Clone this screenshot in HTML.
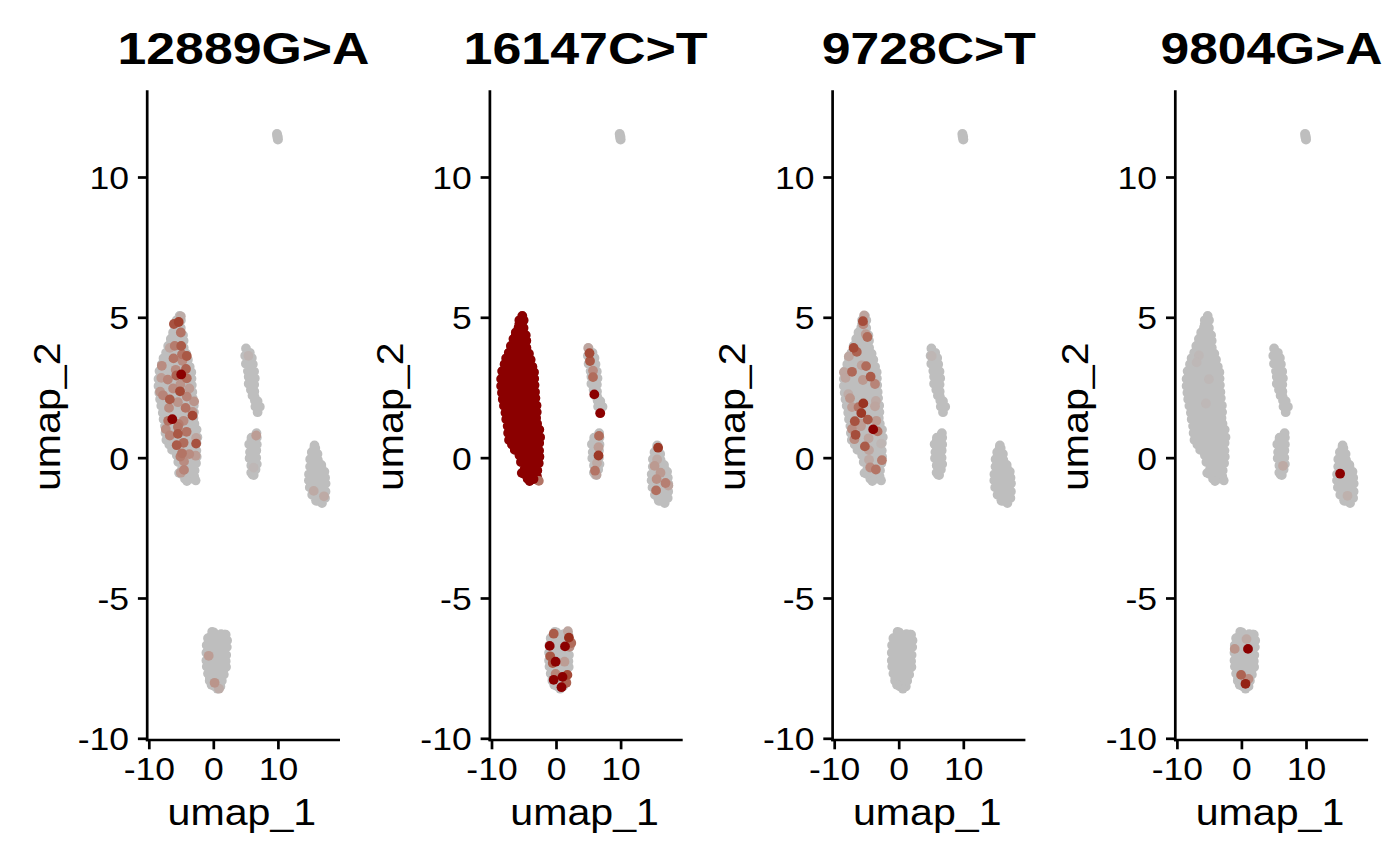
<!DOCTYPE html>
<html><head><meta charset="utf-8"><style>
html,body{margin:0;padding:0;background:#fff;width:1400px;height:865px;overflow:hidden}
svg{display:block}
.t{font-family:"Liberation Sans", sans-serif;font-weight:bold;font-size:44px}
.k{font-family:"Liberation Sans", sans-serif;font-size:32px}
.a{font-family:"Liberation Sans", sans-serif;font-size:37px}
</style></head><body>
<svg width="1400" height="865" viewBox="0 0 1400 865">
<rect width="1400" height="865" fill="#fff"/>
<path d="M181.2,313.5 L180.6,313.2 L179.9,313.0 L179.2,313.0 L178.5,313.2 L177.9,313.5 L175.5,315.3 L175.0,315.8 L174.6,316.4 L174.3,317.1 L173.8,319.8 L173.6,320.3 L173.4,320.8 L172.4,322.1 L172.0,322.7 L171.8,323.4 L171.8,324.2 L172.0,324.9 L172.8,326.9 L173.0,327.6 L172.9,328.0 L172.8,328.4 L172.4,329.0 L169.1,332.3 L168.7,332.9 L168.4,333.5 L168.3,334.2 L167.8,340.4 L167.7,341.0 L167.5,341.5 L164.6,346.2 L164.3,346.8 L164.2,347.4 L163.7,351.0 L163.6,351.4 L163.4,351.8 L160.9,356.1 L160.6,356.7 L160.5,357.3 L160.5,357.9 L160.8,359.7 L160.8,360.2 L160.7,360.6 L160.5,361.1 L158.1,364.9 L157.8,365.8 L155.7,375.0 L155.6,375.6 L155.6,386.4 L155.6,386.8 L157.3,399.7 L157.3,399.8 L158.4,406.5 L158.5,406.7 L159.6,411.1 L159.7,411.5 L160.8,420.4 L160.8,420.7 L162.5,428.4 L162.6,429.1 L162.6,436.5 L162.7,437.1 L164.0,442.5 L164.2,443.1 L164.6,443.7 L167.8,447.3 L168.4,448.3 L169.6,451.5 L169.9,452.2 L170.4,452.7 L173.4,455.2 L173.8,455.8 L174.1,456.5 L175.7,463.4 L175.8,464.0 L176.1,464.5 L178.9,468.3 L179.2,468.9 L179.3,469.3 L179.2,470.0 L178.5,472.8 L178.5,473.4 L178.5,474.1 L178.8,474.8 L181.0,479.2 L181.4,479.8 L181.9,480.2 L185.2,482.7 L185.9,483.0 L186.6,483.2 L187.4,483.2 L188.1,483.0 L190.8,481.8 L191.4,481.6 L191.8,481.6 L192.4,481.8 L193.5,482.3 L194.2,482.5 L194.9,482.5 L195.6,482.4 L196.2,482.1 L196.7,481.7 L197.2,481.2 L197.7,480.5 L198.0,479.8 L198.0,479.0 L197.9,478.2 L197.0,475.8 L196.9,475.2 L196.9,474.7 L198.1,466.8 L198.2,466.6 L199.7,460.4 L199.8,459.5 L199.3,451.0 L199.3,450.9 L199.3,444.0 L199.4,443.5 L200.3,438.5 L200.4,437.7 L199.8,431.5 L199.8,431.3 L198.9,425.6 L198.7,424.9 L198.4,424.4 L196.2,421.3 L195.9,420.8 L195.8,420.4 L195.8,420.1 L195.9,419.5 L197.2,415.6 L197.4,414.9 L197.3,414.2 L196.5,409.7 L196.4,408.9 L196.8,403.4 L196.8,402.6 L196.5,401.9 L196.1,400.9 L195.8,399.8 L194.6,383.3 L194.6,383.2 L194.1,370.3 L193.9,369.3 L191.4,363.2 L191.2,362.4 L190.2,354.7 L190.0,353.9 L189.5,353.2 L187.6,350.9 L187.3,350.4 L187.1,349.8 L186.1,344.5 L186.1,343.3 L186.9,339.0 L187.0,338.3 L186.8,337.6 L183.8,328.3 L183.7,327.9 L183.7,327.4 L184.2,323.4 L184.2,322.8 L183.4,316.1 L183.1,315.3 L182.7,314.6 L182.1,314.1Z M247.0,346.8 L246.5,346.6 L246.0,346.5 L245.5,346.6 L245.1,346.7 L244.7,347.0 L243.5,348.0 L243.2,348.5 L242.9,349.0 L242.9,349.6 L243.2,356.5 L243.2,356.6 L244.1,365.6 L244.1,366.1 L246.6,373.3 L246.7,374.2 L246.7,385.4 L246.8,385.8 L246.9,386.2 L249.1,390.5 L249.3,391.2 L249.2,391.9 L248.9,393.9 L248.8,394.4 L249.0,394.9 L249.2,395.4 L249.6,395.8 L252.1,397.9 L252.5,398.3 L252.7,398.7 L252.8,399.2 L253.1,403.7 L253.1,403.8 L253.9,410.6 L254.0,411.1 L254.3,411.6 L255.8,413.6 L256.2,414.0 L256.6,414.2 L257.1,414.3 L257.7,414.3 L258.2,414.2 L258.6,414.0 L259.0,413.6 L261.3,410.7 L261.5,410.2 L261.7,409.6 L262.0,403.8 L262.0,403.2 L261.8,402.7 L261.5,402.2 L257.1,397.8 L256.7,397.4 L256.6,396.9 L256.5,396.5 L256.6,395.9 L257.3,394.2 L257.4,393.6 L257.4,393.0 L257.1,392.4 L255.5,389.7 L255.3,389.2 L255.2,388.8 L255.3,388.3 L256.9,381.9 L257.0,381.3 L256.5,373.5 L256.5,373.3 L254.3,361.3 L254.3,361.2 L253.3,354.4 L253.1,353.9 L252.9,353.4 L248.6,347.9 L248.3,347.6 L248.0,347.3Z M259.4,432.8 L259.2,432.1 L258.9,431.4 L258.3,430.9 L257.7,430.5 L256.9,430.3 L256.1,430.3 L255.4,430.5 L254.7,430.9 L252.7,432.5 L252.5,432.7 L250.2,435.0 L250.0,435.1 L247.5,437.3 L247.0,437.9 L246.7,438.5 L246.6,439.3 L246.2,443.8 L246.3,444.5 L247.2,450.7 L247.2,451.4 L246.7,458.3 L246.8,459.2 L249.0,468.3 L249.1,468.8 L249.0,469.3 L247.8,474.5 L247.7,475.3 L247.8,476.0 L248.1,476.7 L248.5,477.3 L249.7,478.4 L250.3,478.9 L251.1,479.2 L251.9,479.3 L253.4,479.2 L254.2,479.0 L254.9,478.6 L255.5,478.0 L255.9,477.3 L257.7,472.4 L257.8,472.1 L260.0,463.5 L260.1,462.8 L260.0,462.2 L258.8,455.5 L258.7,454.6 L259.7,447.3 L259.7,446.9 L259.7,435.6 L259.7,435.3Z M315.8,442.9 L315.0,442.6 L314.2,442.6 L313.5,442.8 L312.8,443.2 L310.7,444.8 L310.1,445.3 L309.7,446.1 L309.5,446.9 L309.2,450.6 L309.1,451.2 L307.4,457.3 L307.3,458.1 L307.3,465.3 L307.3,465.7 L305.8,476.0 L305.8,476.5 L306.3,485.4 L306.4,486.1 L308.6,493.4 L308.6,493.5 L311.0,500.5 L311.4,501.1 L311.8,501.7 L312.4,502.1 L320.1,506.2 L320.2,506.2 L320.3,506.3 L321.0,506.5 L321.7,506.6 L322.4,506.5 L323.1,506.2 L323.7,505.8 L324.1,505.2 L324.9,503.9 L324.9,503.8 L327.8,499.0 L328.0,498.3 L328.1,497.6 L328.6,485.2 L328.6,484.9 L327.6,472.7 L327.6,472.2 L325.8,465.0 L325.5,464.3 L325.2,463.8 L324.7,463.3 L324.1,463.0 L322.0,462.1 L321.4,461.7 L321.1,461.4 L320.9,460.9 L320.8,460.3 L320.8,454.7 L320.7,454.0 L320.5,453.4 L318.6,449.7 L318.3,448.6 L318.0,445.5 L317.9,444.8 L317.5,444.1 L317.0,443.6 L316.4,443.2Z M213.0,629.1 L212.3,628.9 L211.6,629.0 L210.9,629.2 L210.3,629.7 L208.3,631.3 L207.9,631.7 L207.6,632.2 L205.4,636.8 L205.2,637.5 L203.8,644.5 L203.8,644.9 L203.3,656.2 L203.3,656.4 L203.8,665.8 L203.8,666.1 L205.2,674.4 L205.3,675.3 L205.0,678.1 L205.0,678.9 L205.2,679.6 L205.6,680.2 L208.3,683.6 L208.4,683.7 L212.3,688.2 L212.9,688.7 L216.0,690.7 L216.7,691.1 L217.5,691.2 L218.3,691.1 L219.0,690.9 L221.8,689.3 L222.4,688.8 L222.9,688.2 L223.2,687.4 L225.2,678.7 L225.4,678.1 L228.8,670.3 L229.0,669.7 L229.0,669.0 L228.6,660.4 L228.6,659.9 L229.6,649.4 L229.6,649.2 L230.1,639.3 L229.9,638.3 L228.1,632.4 L227.7,631.7 L227.2,631.1 L226.5,630.5 L225.8,630.0 L225.0,629.8 L224.1,629.8 L223.3,630.1 L221.3,631.1 L220.7,631.2 L220.3,631.3 L219.7,631.2ZM174.7,315.9a4.9,4.9 0 1,0 9.8,0a4.9,4.9 0 1,0 -9.8,0ZM171.8,320.3a4.9,4.9 0 1,0 9.8,0a4.9,4.9 0 1,0 -9.8,0ZM171.0,327.4a4.9,4.9 0 1,0 9.8,0a4.9,4.9 0 1,0 -9.8,0ZM168.2,332.4a4.9,4.9 0 1,0 9.8,0a4.9,4.9 0 1,0 -9.8,0ZM165.9,338.9a4.9,4.9 0 1,0 9.8,0a4.9,4.9 0 1,0 -9.8,0ZM163.3,345.9a4.9,4.9 0 1,0 9.8,0a4.9,4.9 0 1,0 -9.8,0ZM161.2,352.8a4.9,4.9 0 1,0 9.8,0a4.9,4.9 0 1,0 -9.8,0ZM158.6,358.3a4.9,4.9 0 1,0 9.8,0a4.9,4.9 0 1,0 -9.8,0ZM157.0,364.3a4.9,4.9 0 1,0 9.8,0a4.9,4.9 0 1,0 -9.8,0ZM154.6,371.1a4.9,4.9 0 1,0 9.8,0a4.9,4.9 0 1,0 -9.8,0ZM153.6,378.9a4.9,4.9 0 1,0 9.8,0a4.9,4.9 0 1,0 -9.8,0ZM153.6,386.0a4.9,4.9 0 1,0 9.8,0a4.9,4.9 0 1,0 -9.8,0ZM154.4,392.8a4.9,4.9 0 1,0 9.8,0a4.9,4.9 0 1,0 -9.8,0ZM155.2,399.2a4.9,4.9 0 1,0 9.8,0a4.9,4.9 0 1,0 -9.8,0ZM156.4,405.7a4.9,4.9 0 1,0 9.8,0a4.9,4.9 0 1,0 -9.8,0ZM157.9,412.8a4.9,4.9 0 1,0 9.8,0a4.9,4.9 0 1,0 -9.8,0ZM158.7,419.3a4.9,4.9 0 1,0 9.8,0a4.9,4.9 0 1,0 -9.8,0ZM160.1,426.0a4.9,4.9 0 1,0 9.8,0a4.9,4.9 0 1,0 -9.8,0ZM160.6,433.0a4.9,4.9 0 1,0 9.8,0a4.9,4.9 0 1,0 -9.8,0ZM161.5,440.0a4.9,4.9 0 1,0 9.8,0a4.9,4.9 0 1,0 -9.8,0ZM164.4,444.6a4.9,4.9 0 1,0 9.8,0a4.9,4.9 0 1,0 -9.8,0ZM167.2,449.9a4.9,4.9 0 1,0 9.8,0a4.9,4.9 0 1,0 -9.8,0ZM171.9,455.3a4.9,4.9 0 1,0 9.8,0a4.9,4.9 0 1,0 -9.8,0ZM173.4,462.0a4.9,4.9 0 1,0 9.8,0a4.9,4.9 0 1,0 -9.8,0ZM177.2,468.5a4.9,4.9 0 1,0 9.8,0a4.9,4.9 0 1,0 -9.8,0ZM176.7,474.0a4.9,4.9 0 1,0 9.8,0a4.9,4.9 0 1,0 -9.8,0ZM180.1,478.9a4.9,4.9 0 1,0 9.8,0a4.9,4.9 0 1,0 -9.8,0ZM186.1,478.7a4.9,4.9 0 1,0 9.8,0a4.9,4.9 0 1,0 -9.8,0ZM189.3,476.5a4.9,4.9 0 1,0 9.8,0a4.9,4.9 0 1,0 -9.8,0ZM189.7,470.5a4.9,4.9 0 1,0 9.8,0a4.9,4.9 0 1,0 -9.8,0ZM191.1,463.3a4.9,4.9 0 1,0 9.8,0a4.9,4.9 0 1,0 -9.8,0ZM191.8,456.8a4.9,4.9 0 1,0 9.8,0a4.9,4.9 0 1,0 -9.8,0ZM191.5,450.6a4.9,4.9 0 1,0 9.8,0a4.9,4.9 0 1,0 -9.8,0ZM191.6,443.0a4.9,4.9 0 1,0 9.8,0a4.9,4.9 0 1,0 -9.8,0ZM192.5,437.3a4.9,4.9 0 1,0 9.8,0a4.9,4.9 0 1,0 -9.8,0ZM191.7,429.6a4.9,4.9 0 1,0 9.8,0a4.9,4.9 0 1,0 -9.8,0ZM189.5,423.8a4.9,4.9 0 1,0 9.8,0a4.9,4.9 0 1,0 -9.8,0ZM188.5,417.9a4.9,4.9 0 1,0 9.8,0a4.9,4.9 0 1,0 -9.8,0ZM189.1,412.1a4.9,4.9 0 1,0 9.8,0a4.9,4.9 0 1,0 -9.8,0ZM188.9,405.5a4.9,4.9 0 1,0 9.8,0a4.9,4.9 0 1,0 -9.8,0ZM187.8,398.1a4.9,4.9 0 1,0 9.8,0a4.9,4.9 0 1,0 -9.8,0ZM187.4,392.0a4.9,4.9 0 1,0 9.8,0a4.9,4.9 0 1,0 -9.8,0ZM186.9,385.1a4.9,4.9 0 1,0 9.8,0a4.9,4.9 0 1,0 -9.8,0ZM186.6,378.6a4.9,4.9 0 1,0 9.8,0a4.9,4.9 0 1,0 -9.8,0ZM186.4,372.3a4.9,4.9 0 1,0 9.8,0a4.9,4.9 0 1,0 -9.8,0ZM184.8,366.8a4.9,4.9 0 1,0 9.8,0a4.9,4.9 0 1,0 -9.8,0ZM183.0,359.8a4.9,4.9 0 1,0 9.8,0a4.9,4.9 0 1,0 -9.8,0ZM181.3,353.7a4.9,4.9 0 1,0 9.8,0a4.9,4.9 0 1,0 -9.8,0ZM178.8,347.7a4.9,4.9 0 1,0 9.8,0a4.9,4.9 0 1,0 -9.8,0ZM178.7,340.8a4.9,4.9 0 1,0 9.8,0a4.9,4.9 0 1,0 -9.8,0ZM178.1,335.2a4.9,4.9 0 1,0 9.8,0a4.9,4.9 0 1,0 -9.8,0ZM175.9,328.0a4.9,4.9 0 1,0 9.8,0a4.9,4.9 0 1,0 -9.8,0ZM176.0,320.3a4.9,4.9 0 1,0 9.8,0a4.9,4.9 0 1,0 -9.8,0ZM241.1,348.5a4.9,4.9 0 1,0 9.8,0a4.9,4.9 0 1,0 -9.8,0ZM240.3,355.8a4.9,4.9 0 1,0 9.8,0a4.9,4.9 0 1,0 -9.8,0ZM241.0,363.7a4.9,4.9 0 1,0 9.8,0a4.9,4.9 0 1,0 -9.8,0ZM243.0,371.1a4.9,4.9 0 1,0 9.8,0a4.9,4.9 0 1,0 -9.8,0ZM243.8,376.7a4.9,4.9 0 1,0 9.8,0a4.9,4.9 0 1,0 -9.8,0ZM243.8,383.7a4.9,4.9 0 1,0 9.8,0a4.9,4.9 0 1,0 -9.8,0ZM246.0,389.7a4.9,4.9 0 1,0 9.8,0a4.9,4.9 0 1,0 -9.8,0ZM247.6,395.6a4.9,4.9 0 1,0 9.8,0a4.9,4.9 0 1,0 -9.8,0ZM250.0,400.6a4.9,4.9 0 1,0 9.8,0a4.9,4.9 0 1,0 -9.8,0ZM250.5,406.6a4.9,4.9 0 1,0 9.8,0a4.9,4.9 0 1,0 -9.8,0ZM252.7,412.2a4.9,4.9 0 1,0 9.8,0a4.9,4.9 0 1,0 -9.8,0ZM254.9,406.8a4.9,4.9 0 1,0 9.8,0a4.9,4.9 0 1,0 -9.8,0ZM252.7,401.2a4.9,4.9 0 1,0 9.8,0a4.9,4.9 0 1,0 -9.8,0ZM249.6,396.8a4.9,4.9 0 1,0 9.8,0a4.9,4.9 0 1,0 -9.8,0ZM249.4,391.5a4.9,4.9 0 1,0 9.8,0a4.9,4.9 0 1,0 -9.8,0ZM249.3,384.6a4.9,4.9 0 1,0 9.8,0a4.9,4.9 0 1,0 -9.8,0ZM249.9,378.2a4.9,4.9 0 1,0 9.8,0a4.9,4.9 0 1,0 -9.8,0ZM249.2,371.4a4.9,4.9 0 1,0 9.8,0a4.9,4.9 0 1,0 -9.8,0ZM247.9,364.2a4.9,4.9 0 1,0 9.8,0a4.9,4.9 0 1,0 -9.8,0ZM246.9,357.9a4.9,4.9 0 1,0 9.8,0a4.9,4.9 0 1,0 -9.8,0ZM244.9,352.8a4.9,4.9 0 1,0 9.8,0a4.9,4.9 0 1,0 -9.8,0ZM251.6,433.1a4.9,4.9 0 1,0 9.8,0a4.9,4.9 0 1,0 -9.8,0ZM246.6,437.7a4.9,4.9 0 1,0 9.8,0a4.9,4.9 0 1,0 -9.8,0ZM244.3,444.3a4.9,4.9 0 1,0 9.8,0a4.9,4.9 0 1,0 -9.8,0ZM245.1,452.1a4.9,4.9 0 1,0 9.8,0a4.9,4.9 0 1,0 -9.8,0ZM244.7,458.3a4.9,4.9 0 1,0 9.8,0a4.9,4.9 0 1,0 -9.8,0ZM246.4,465.5a4.9,4.9 0 1,0 9.8,0a4.9,4.9 0 1,0 -9.8,0ZM246.3,472.6a4.9,4.9 0 1,0 9.8,0a4.9,4.9 0 1,0 -9.8,0ZM248.8,475.0a4.9,4.9 0 1,0 9.8,0a4.9,4.9 0 1,0 -9.8,0ZM250.6,469.5a4.9,4.9 0 1,0 9.8,0a4.9,4.9 0 1,0 -9.8,0ZM251.9,464.1a4.9,4.9 0 1,0 9.8,0a4.9,4.9 0 1,0 -9.8,0ZM251.3,457.8a4.9,4.9 0 1,0 9.8,0a4.9,4.9 0 1,0 -9.8,0ZM251.4,450.5a4.9,4.9 0 1,0 9.8,0a4.9,4.9 0 1,0 -9.8,0ZM251.9,444.4a4.9,4.9 0 1,0 9.8,0a4.9,4.9 0 1,0 -9.8,0ZM251.9,437.6a4.9,4.9 0 1,0 9.8,0a4.9,4.9 0 1,0 -9.8,0ZM309.6,445.5a4.9,4.9 0 1,0 9.8,0a4.9,4.9 0 1,0 -9.8,0ZM306.9,452.2a4.9,4.9 0 1,0 9.8,0a4.9,4.9 0 1,0 -9.8,0ZM305.3,459.2a4.9,4.9 0 1,0 9.8,0a4.9,4.9 0 1,0 -9.8,0ZM305.2,466.6a4.9,4.9 0 1,0 9.8,0a4.9,4.9 0 1,0 -9.8,0ZM304.1,474.3a4.9,4.9 0 1,0 9.8,0a4.9,4.9 0 1,0 -9.8,0ZM304.0,480.4a4.9,4.9 0 1,0 9.8,0a4.9,4.9 0 1,0 -9.8,0ZM304.9,487.4a4.9,4.9 0 1,0 9.8,0a4.9,4.9 0 1,0 -9.8,0ZM307.3,494.8a4.9,4.9 0 1,0 9.8,0a4.9,4.9 0 1,0 -9.8,0ZM311.2,500.8a4.9,4.9 0 1,0 9.8,0a4.9,4.9 0 1,0 -9.8,0ZM317.1,503.1a4.9,4.9 0 1,0 9.8,0a4.9,4.9 0 1,0 -9.8,0ZM320.1,498.0a4.9,4.9 0 1,0 9.8,0a4.9,4.9 0 1,0 -9.8,0ZM320.6,491.5a4.9,4.9 0 1,0 9.8,0a4.9,4.9 0 1,0 -9.8,0ZM320.7,483.6a4.9,4.9 0 1,0 9.8,0a4.9,4.9 0 1,0 -9.8,0ZM320.2,477.8a4.9,4.9 0 1,0 9.8,0a4.9,4.9 0 1,0 -9.8,0ZM319.5,471.6a4.9,4.9 0 1,0 9.8,0a4.9,4.9 0 1,0 -9.8,0ZM316.4,464.9a4.9,4.9 0 1,0 9.8,0a4.9,4.9 0 1,0 -9.8,0ZM313.0,459.9a4.9,4.9 0 1,0 9.8,0a4.9,4.9 0 1,0 -9.8,0ZM312.6,454.0a4.9,4.9 0 1,0 9.8,0a4.9,4.9 0 1,0 -9.8,0ZM310.4,448.1a4.9,4.9 0 1,0 9.8,0a4.9,4.9 0 1,0 -9.8,0ZM207.3,631.8a4.9,4.9 0 1,0 9.8,0a4.9,4.9 0 1,0 -9.8,0ZM203.1,638.2a4.9,4.9 0 1,0 9.8,0a4.9,4.9 0 1,0 -9.8,0ZM201.8,645.3a4.9,4.9 0 1,0 9.8,0a4.9,4.9 0 1,0 -9.8,0ZM201.5,652.7a4.9,4.9 0 1,0 9.8,0a4.9,4.9 0 1,0 -9.8,0ZM201.5,660.5a4.9,4.9 0 1,0 9.8,0a4.9,4.9 0 1,0 -9.8,0ZM201.9,666.6a4.9,4.9 0 1,0 9.8,0a4.9,4.9 0 1,0 -9.8,0ZM203.1,673.6a4.9,4.9 0 1,0 9.8,0a4.9,4.9 0 1,0 -9.8,0ZM204.8,680.7a4.9,4.9 0 1,0 9.8,0a4.9,4.9 0 1,0 -9.8,0ZM209.8,686.4a4.9,4.9 0 1,0 9.8,0a4.9,4.9 0 1,0 -9.8,0ZM215.5,686.4a4.9,4.9 0 1,0 9.8,0a4.9,4.9 0 1,0 -9.8,0ZM216.9,680.7a4.9,4.9 0 1,0 9.8,0a4.9,4.9 0 1,0 -9.8,0ZM218.9,674.5a4.9,4.9 0 1,0 9.8,0a4.9,4.9 0 1,0 -9.8,0ZM221.1,667.0a4.9,4.9 0 1,0 9.8,0a4.9,4.9 0 1,0 -9.8,0ZM220.8,661.3a4.9,4.9 0 1,0 9.8,0a4.9,4.9 0 1,0 -9.8,0ZM221.3,655.0a4.9,4.9 0 1,0 9.8,0a4.9,4.9 0 1,0 -9.8,0ZM221.9,647.1a4.9,4.9 0 1,0 9.8,0a4.9,4.9 0 1,0 -9.8,0ZM222.2,640.5a4.9,4.9 0 1,0 9.8,0a4.9,4.9 0 1,0 -9.8,0ZM220.8,634.7a4.9,4.9 0 1,0 9.8,0a4.9,4.9 0 1,0 -9.8,0ZM216.2,634.1a4.9,4.9 0 1,0 9.8,0a4.9,4.9 0 1,0 -9.8,0ZM208.7,632.3a4.9,4.9 0 1,0 9.8,0a4.9,4.9 0 1,0 -9.8,0Z" fill="#BEBEBE" fill-rule="nonzero"/>
<circle cx="277.0" cy="134" r="5" fill="#BEBEBE"/>
<circle cx="277.9" cy="139.5" r="5" fill="#BEBEBE"/>
<circle cx="277.5" cy="136.8" r="5.2" fill="#BEBEBE"/>
<circle cx="186.9" cy="481.2" r="4.7" fill="#BEBEBE"/>
<circle cx="195.8" cy="480.6" r="4.7" fill="#BEBEBE"/>
<circle cx="178.9" cy="473" r="4.7" fill="#BEBEBE"/>
<circle cx="217.4" cy="688.8" r="4.8" fill="#BEBEBE"/>
<circle cx="211.4" cy="685" r="4.7" fill="#BEBEBE"/>
<circle cx="253.6" cy="467.6" r="4.9" fill="#BEB7B6"/>
<circle cx="248.4" cy="355.8" r="4.9" fill="#BEB4B2"/>
<circle cx="180.8" cy="316.3" r="4.9" fill="#BDADA9"/>
<circle cx="219.0" cy="688.7" r="4.9" fill="#BDADA9"/>
<circle cx="313.7" cy="490.9" r="4.9" fill="#BDAAA5"/>
<circle cx="324.0" cy="496.3" r="4.9" fill="#BDAAA5"/>
<circle cx="169.8" cy="347.9" r="4.9" fill="#BDA59F"/>
<circle cx="196.1" cy="437.9" r="4.9" fill="#BDA59F"/>
<circle cx="161.3" cy="377.9" r="4.9" fill="#BC9D95"/>
<circle cx="189.3" cy="388.5" r="4.9" fill="#BC9D95"/>
<circle cx="195.7" cy="455.7" r="4.9" fill="#BC9D95"/>
<circle cx="180.8" cy="472.7" r="4.9" fill="#BC9D95"/>
<circle cx="256.2" cy="435.5" r="4.9" fill="#BC9D95"/>
<circle cx="208.7" cy="655.8" r="4.9" fill="#BC9D95"/>
<circle cx="180.4" cy="384.4" r="4.9" fill="#BA958B"/>
<circle cx="160.1" cy="391.7" r="4.9" fill="#BA958B"/>
<circle cx="177.9" cy="402.2" r="4.9" fill="#BA958B"/>
<circle cx="194.1" cy="401.4" r="4.9" fill="#BA958B"/>
<circle cx="192.5" cy="411.9" r="4.9" fill="#BA958B"/>
<circle cx="214.6" cy="682.8" r="4.9" fill="#BA958B"/>
<circle cx="182.4" cy="360.8" r="4.9" fill="#B98C81"/>
<circle cx="161.8" cy="365.8" r="4.9" fill="#B98C81"/>
<circle cx="175.7" cy="369.8" r="4.9" fill="#B98C81"/>
<circle cx="173.1" cy="388.5" r="4.9" fill="#B98C81"/>
<circle cx="169.0" cy="407.9" r="4.9" fill="#B98C81"/>
<circle cx="183.6" cy="420.8" r="4.9" fill="#B98C81"/>
<circle cx="165.8" cy="429.1" r="4.9" fill="#B98C81"/>
<circle cx="189.3" cy="454.1" r="4.9" fill="#B98C81"/>
<circle cx="184.0" cy="461.4" r="4.9" fill="#B98C81"/>
<circle cx="167.8" cy="379.6" r="4.9" fill="#B78478"/>
<circle cx="163.0" cy="395.3" r="4.9" fill="#B78478"/>
<circle cx="186.8" cy="396.6" r="4.9" fill="#B78478"/>
<circle cx="169.8" cy="435.5" r="4.9" fill="#B78478"/>
<circle cx="184.0" cy="469.9" r="4.9" fill="#B78478"/>
<circle cx="174.7" cy="345.9" r="4.9" fill="#B57C6E"/>
<circle cx="178.7" cy="424.1" r="4.9" fill="#B57C6E"/>
<circle cx="180.4" cy="456.6" r="4.9" fill="#B57C6E"/>
<circle cx="180.8" cy="332.5" r="4.9" fill="#B37465"/>
<circle cx="182.0" cy="354.4" r="4.9" fill="#B37465"/>
<circle cx="173.5" cy="358.4" r="4.9" fill="#B37465"/>
<circle cx="185.6" cy="407.9" r="4.9" fill="#B37465"/>
<circle cx="168.2" cy="420.8" r="4.9" fill="#B37465"/>
<circle cx="177.9" cy="427.0" r="4.9" fill="#B37465"/>
<circle cx="186.6" cy="431.8" r="4.9" fill="#B37465"/>
<circle cx="182.0" cy="453.3" r="4.9" fill="#B37465"/>
<circle cx="186.8" cy="378.3" r="4.9" fill="#B06C5B"/>
<circle cx="183.6" cy="442.8" r="4.9" fill="#B06C5B"/>
<circle cx="186.0" cy="369.0" r="4.9" fill="#AD6352"/>
<circle cx="176.3" cy="375.5" r="4.9" fill="#AD6352"/>
<circle cx="181.2" cy="345.9" r="4.9" fill="#AA5B49"/>
<circle cx="169.8" cy="399.4" r="4.9" fill="#AA5B49"/>
<circle cx="176.7" cy="445.2" r="4.9" fill="#AA5B49"/>
<circle cx="186.8" cy="356.0" r="4.9" fill="#A95845"/>
<circle cx="177.9" cy="433.9" r="4.9" fill="#A95845"/>
<circle cx="173.9" cy="324.0" r="4.9" fill="#A75240"/>
<circle cx="196.1" cy="443.6" r="4.9" fill="#A75240"/>
<circle cx="180.0" cy="391.3" r="4.9" fill="#A44A37"/>
<circle cx="192.5" cy="415.6" r="4.9" fill="#A24634"/>
<circle cx="178.7" cy="322.0" r="4.9" fill="#A0412E"/>
<circle cx="181.2" cy="374.5" r="4.9" fill="#8B0000"/>
<circle cx="172.3" cy="419.2" r="4.9" fill="#8B0000"/>
<line x1="147.20" y1="90.2" x2="147.20" y2="741.35" stroke="#000" stroke-width="2.7"/>
<line x1="145.85" y1="740" x2="340.00" y2="740" stroke="#000" stroke-width="2.7"/>
<line x1="137.90" y1="177.5" x2="147.20" y2="177.5" stroke="#000" stroke-width="2.7"/>
<line x1="137.90" y1="317.8" x2="147.20" y2="317.8" stroke="#000" stroke-width="2.7"/>
<line x1="137.90" y1="458.15" x2="147.20" y2="458.15" stroke="#000" stroke-width="2.7"/>
<line x1="137.90" y1="598.5" x2="147.20" y2="598.5" stroke="#000" stroke-width="2.7"/>
<line x1="137.90" y1="738.8" x2="147.20" y2="738.8" stroke="#000" stroke-width="2.7"/>
<line x1="149.30" y1="740" x2="149.30" y2="749.3" stroke="#000" stroke-width="2.7"/>
<line x1="213.80" y1="740" x2="213.80" y2="749.3" stroke="#000" stroke-width="2.7"/>
<line x1="278.40" y1="740" x2="278.40" y2="749.3" stroke="#000" stroke-width="2.7"/>
<path d="M523.9,313.5 L523.3,313.2 L522.6,313.0 L521.9,313.0 L521.2,313.2 L520.6,313.5 L518.2,315.3 L517.7,315.8 L517.3,316.4 L517.0,317.1 L516.5,319.8 L516.3,320.3 L516.1,320.8 L515.1,322.1 L514.7,322.7 L514.5,323.4 L514.5,324.2 L514.7,324.9 L515.5,326.9 L515.7,327.6 L515.6,328.0 L515.5,328.4 L515.1,329.0 L511.8,332.3 L511.4,332.9 L511.1,333.5 L511.0,334.2 L510.5,340.4 L510.4,341.0 L510.2,341.5 L507.3,346.2 L507.0,346.8 L506.9,347.4 L506.4,351.0 L506.3,351.4 L506.1,351.8 L503.6,356.1 L503.3,356.7 L503.2,357.3 L503.2,357.9 L503.5,359.7 L503.5,360.2 L503.4,360.6 L503.2,361.1 L500.8,364.9 L500.5,365.8 L498.4,375.0 L498.3,375.6 L498.3,386.4 L498.3,386.8 L500.0,399.7 L500.0,399.8 L501.1,406.5 L501.2,406.7 L502.3,411.1 L502.4,411.5 L503.5,420.4 L503.5,420.7 L505.2,428.4 L505.3,429.1 L505.3,436.5 L505.4,437.1 L506.7,442.5 L506.9,443.1 L507.3,443.7 L510.5,447.3 L511.1,448.3 L512.3,451.5 L512.6,452.2 L513.1,452.7 L516.1,455.2 L516.5,455.8 L516.8,456.5 L518.4,463.4 L518.5,464.0 L518.8,464.5 L521.6,468.3 L521.9,468.9 L522.0,469.3 L521.9,470.0 L521.2,472.8 L521.2,473.4 L521.2,474.1 L521.5,474.8 L523.7,479.2 L524.1,479.8 L524.6,480.2 L527.9,482.7 L528.6,483.0 L529.3,483.2 L530.1,483.2 L530.8,483.0 L533.5,481.8 L534.1,481.6 L534.5,481.6 L535.1,481.8 L536.2,482.3 L536.9,482.5 L537.6,482.5 L538.3,482.4 L538.9,482.1 L539.4,481.7 L539.9,481.2 L540.4,480.5 L540.7,479.8 L540.7,479.0 L540.6,478.2 L539.7,475.8 L539.6,475.2 L539.6,474.7 L540.8,466.8 L540.9,466.6 L542.4,460.4 L542.5,459.5 L542.0,451.0 L542.0,450.9 L542.0,444.0 L542.1,443.5 L543.0,438.5 L543.1,437.7 L542.5,431.5 L542.5,431.3 L541.6,425.6 L541.4,424.9 L541.1,424.4 L538.9,421.3 L538.6,420.8 L538.5,420.4 L538.5,420.1 L538.6,419.5 L539.9,415.6 L540.1,414.9 L540.0,414.2 L539.2,409.7 L539.1,408.9 L539.5,403.4 L539.5,402.6 L539.2,401.9 L538.8,400.9 L538.5,399.8 L537.3,383.3 L537.3,383.2 L536.8,370.3 L536.6,369.3 L534.1,363.2 L533.9,362.4 L532.9,354.7 L532.7,353.9 L532.2,353.2 L530.3,350.9 L530.0,350.4 L529.8,349.8 L528.8,344.5 L528.8,343.3 L529.6,339.0 L529.7,338.3 L529.5,337.6 L526.5,328.3 L526.4,327.9 L526.4,327.4 L526.9,323.4 L526.9,322.8 L526.1,316.1 L525.8,315.3 L525.4,314.6 L524.8,314.1Z M589.7,346.8 L589.2,346.6 L588.7,346.5 L588.2,346.6 L587.8,346.7 L587.4,347.0 L586.2,348.0 L585.9,348.5 L585.6,349.0 L585.6,349.6 L585.9,356.5 L585.9,356.6 L586.8,365.6 L586.8,366.1 L589.3,373.3 L589.4,374.2 L589.4,385.4 L589.5,385.8 L589.6,386.2 L591.8,390.5 L592.0,391.2 L591.9,391.9 L591.6,393.9 L591.5,394.4 L591.7,394.9 L591.9,395.4 L592.3,395.8 L594.8,397.9 L595.2,398.3 L595.4,398.7 L595.5,399.2 L595.8,403.7 L595.8,403.8 L596.6,410.6 L596.7,411.1 L597.0,411.6 L598.5,413.6 L598.9,414.0 L599.3,414.2 L599.8,414.3 L600.4,414.3 L600.9,414.2 L601.3,414.0 L601.7,413.6 L604.0,410.7 L604.2,410.2 L604.4,409.6 L604.7,403.8 L604.7,403.2 L604.5,402.7 L604.2,402.2 L599.8,397.8 L599.4,397.4 L599.3,396.9 L599.2,396.5 L599.3,395.9 L600.0,394.2 L600.1,393.6 L600.1,393.0 L599.8,392.4 L598.2,389.7 L598.0,389.2 L597.9,388.8 L598.0,388.3 L599.6,381.9 L599.7,381.3 L599.2,373.5 L599.2,373.3 L597.0,361.3 L597.0,361.2 L596.0,354.4 L595.8,353.9 L595.6,353.4 L591.3,347.9 L591.0,347.6 L590.7,347.3Z M602.1,432.8 L601.9,432.1 L601.6,431.4 L601.0,430.9 L600.4,430.5 L599.6,430.3 L598.8,430.3 L598.1,430.5 L597.4,430.9 L595.4,432.5 L595.2,432.7 L592.9,435.0 L592.7,435.1 L590.2,437.3 L589.7,437.9 L589.4,438.5 L589.3,439.3 L588.9,443.8 L589.0,444.5 L589.9,450.7 L589.9,451.4 L589.4,458.3 L589.5,459.2 L591.7,468.3 L591.8,468.8 L591.7,469.3 L590.5,474.5 L590.4,475.3 L590.5,476.0 L590.8,476.7 L591.2,477.3 L592.4,478.4 L593.0,478.9 L593.8,479.2 L594.6,479.3 L596.1,479.2 L596.9,479.0 L597.6,478.6 L598.2,478.0 L598.6,477.3 L600.4,472.4 L600.5,472.1 L602.7,463.5 L602.8,462.8 L602.7,462.2 L601.5,455.5 L601.4,454.6 L602.4,447.3 L602.4,446.9 L602.4,435.6 L602.4,435.3Z M658.5,442.9 L657.7,442.6 L656.9,442.6 L656.2,442.8 L655.5,443.2 L653.4,444.8 L652.8,445.3 L652.4,446.1 L652.2,446.9 L651.9,450.6 L651.8,451.2 L650.1,457.3 L650.0,458.1 L650.0,465.3 L650.0,465.7 L648.5,476.0 L648.5,476.5 L649.0,485.4 L649.1,486.1 L651.3,493.4 L651.3,493.5 L653.7,500.5 L654.1,501.1 L654.5,501.7 L655.1,502.1 L662.8,506.2 L662.9,506.2 L663.0,506.3 L663.7,506.5 L664.4,506.6 L665.1,506.5 L665.8,506.2 L666.4,505.8 L666.8,505.2 L667.6,503.9 L667.6,503.8 L670.5,499.0 L670.7,498.3 L670.8,497.6 L671.3,485.2 L671.3,484.9 L670.3,472.7 L670.3,472.2 L668.5,465.0 L668.2,464.3 L667.9,463.8 L667.4,463.3 L666.8,463.0 L664.7,462.1 L664.1,461.7 L663.8,461.4 L663.6,460.9 L663.5,460.3 L663.5,454.7 L663.4,454.0 L663.2,453.4 L661.3,449.7 L661.0,448.6 L660.7,445.5 L660.6,444.8 L660.2,444.1 L659.7,443.6 L659.1,443.2Z M555.7,629.1 L555.0,628.9 L554.3,629.0 L553.6,629.2 L553.0,629.7 L551.0,631.3 L550.6,631.7 L550.3,632.2 L548.1,636.8 L547.9,637.5 L546.5,644.5 L546.5,644.9 L546.0,656.2 L546.0,656.4 L546.5,665.8 L546.5,666.1 L547.9,674.4 L548.0,675.3 L547.7,678.1 L547.7,678.9 L547.9,679.6 L548.3,680.2 L551.0,683.6 L551.1,683.7 L555.0,688.2 L555.6,688.7 L558.7,690.7 L559.4,691.1 L560.2,691.2 L561.0,691.1 L561.7,690.9 L564.5,689.3 L565.1,688.8 L565.6,688.2 L565.9,687.4 L567.9,678.7 L568.1,678.1 L571.5,670.3 L571.7,669.7 L571.7,669.0 L571.3,660.4 L571.3,659.9 L572.3,649.4 L572.3,649.2 L572.8,639.3 L572.6,638.3 L570.8,632.4 L570.4,631.7 L569.9,631.1 L569.2,630.5 L568.5,630.0 L567.7,629.8 L566.8,629.8 L566.0,630.1 L564.0,631.1 L563.4,631.2 L563.0,631.3 L562.4,631.2ZM517.4,315.9a4.9,4.9 0 1,0 9.8,0a4.9,4.9 0 1,0 -9.8,0ZM514.5,320.3a4.9,4.9 0 1,0 9.8,0a4.9,4.9 0 1,0 -9.8,0ZM513.7,327.4a4.9,4.9 0 1,0 9.8,0a4.9,4.9 0 1,0 -9.8,0ZM510.9,332.4a4.9,4.9 0 1,0 9.8,0a4.9,4.9 0 1,0 -9.8,0ZM508.6,338.9a4.9,4.9 0 1,0 9.8,0a4.9,4.9 0 1,0 -9.8,0ZM506.0,345.9a4.9,4.9 0 1,0 9.8,0a4.9,4.9 0 1,0 -9.8,0ZM503.9,352.8a4.9,4.9 0 1,0 9.8,0a4.9,4.9 0 1,0 -9.8,0ZM501.3,358.3a4.9,4.9 0 1,0 9.8,0a4.9,4.9 0 1,0 -9.8,0ZM499.7,364.3a4.9,4.9 0 1,0 9.8,0a4.9,4.9 0 1,0 -9.8,0ZM497.3,371.1a4.9,4.9 0 1,0 9.8,0a4.9,4.9 0 1,0 -9.8,0ZM496.3,378.9a4.9,4.9 0 1,0 9.8,0a4.9,4.9 0 1,0 -9.8,0ZM496.3,386.0a4.9,4.9 0 1,0 9.8,0a4.9,4.9 0 1,0 -9.8,0ZM497.1,392.8a4.9,4.9 0 1,0 9.8,0a4.9,4.9 0 1,0 -9.8,0ZM497.9,399.2a4.9,4.9 0 1,0 9.8,0a4.9,4.9 0 1,0 -9.8,0ZM499.1,405.7a4.9,4.9 0 1,0 9.8,0a4.9,4.9 0 1,0 -9.8,0ZM500.6,412.8a4.9,4.9 0 1,0 9.8,0a4.9,4.9 0 1,0 -9.8,0ZM501.4,419.3a4.9,4.9 0 1,0 9.8,0a4.9,4.9 0 1,0 -9.8,0ZM502.8,426.0a4.9,4.9 0 1,0 9.8,0a4.9,4.9 0 1,0 -9.8,0ZM503.3,433.0a4.9,4.9 0 1,0 9.8,0a4.9,4.9 0 1,0 -9.8,0ZM504.2,440.0a4.9,4.9 0 1,0 9.8,0a4.9,4.9 0 1,0 -9.8,0ZM507.1,444.6a4.9,4.9 0 1,0 9.8,0a4.9,4.9 0 1,0 -9.8,0ZM509.9,449.9a4.9,4.9 0 1,0 9.8,0a4.9,4.9 0 1,0 -9.8,0ZM514.6,455.3a4.9,4.9 0 1,0 9.8,0a4.9,4.9 0 1,0 -9.8,0ZM516.1,462.0a4.9,4.9 0 1,0 9.8,0a4.9,4.9 0 1,0 -9.8,0ZM519.9,468.5a4.9,4.9 0 1,0 9.8,0a4.9,4.9 0 1,0 -9.8,0ZM519.4,474.0a4.9,4.9 0 1,0 9.8,0a4.9,4.9 0 1,0 -9.8,0ZM522.8,478.9a4.9,4.9 0 1,0 9.8,0a4.9,4.9 0 1,0 -9.8,0ZM528.8,478.7a4.9,4.9 0 1,0 9.8,0a4.9,4.9 0 1,0 -9.8,0ZM532.0,476.5a4.9,4.9 0 1,0 9.8,0a4.9,4.9 0 1,0 -9.8,0ZM532.4,470.5a4.9,4.9 0 1,0 9.8,0a4.9,4.9 0 1,0 -9.8,0ZM533.8,463.3a4.9,4.9 0 1,0 9.8,0a4.9,4.9 0 1,0 -9.8,0ZM534.5,456.8a4.9,4.9 0 1,0 9.8,0a4.9,4.9 0 1,0 -9.8,0ZM534.2,450.6a4.9,4.9 0 1,0 9.8,0a4.9,4.9 0 1,0 -9.8,0ZM534.3,443.0a4.9,4.9 0 1,0 9.8,0a4.9,4.9 0 1,0 -9.8,0ZM535.2,437.3a4.9,4.9 0 1,0 9.8,0a4.9,4.9 0 1,0 -9.8,0ZM534.4,429.6a4.9,4.9 0 1,0 9.8,0a4.9,4.9 0 1,0 -9.8,0ZM532.2,423.8a4.9,4.9 0 1,0 9.8,0a4.9,4.9 0 1,0 -9.8,0ZM531.2,417.9a4.9,4.9 0 1,0 9.8,0a4.9,4.9 0 1,0 -9.8,0ZM531.8,412.1a4.9,4.9 0 1,0 9.8,0a4.9,4.9 0 1,0 -9.8,0ZM531.6,405.5a4.9,4.9 0 1,0 9.8,0a4.9,4.9 0 1,0 -9.8,0ZM530.5,398.1a4.9,4.9 0 1,0 9.8,0a4.9,4.9 0 1,0 -9.8,0ZM530.1,392.0a4.9,4.9 0 1,0 9.8,0a4.9,4.9 0 1,0 -9.8,0ZM529.6,385.1a4.9,4.9 0 1,0 9.8,0a4.9,4.9 0 1,0 -9.8,0ZM529.3,378.6a4.9,4.9 0 1,0 9.8,0a4.9,4.9 0 1,0 -9.8,0ZM529.1,372.3a4.9,4.9 0 1,0 9.8,0a4.9,4.9 0 1,0 -9.8,0ZM527.5,366.8a4.9,4.9 0 1,0 9.8,0a4.9,4.9 0 1,0 -9.8,0ZM525.7,359.8a4.9,4.9 0 1,0 9.8,0a4.9,4.9 0 1,0 -9.8,0ZM524.0,353.7a4.9,4.9 0 1,0 9.8,0a4.9,4.9 0 1,0 -9.8,0ZM521.5,347.7a4.9,4.9 0 1,0 9.8,0a4.9,4.9 0 1,0 -9.8,0ZM521.4,340.8a4.9,4.9 0 1,0 9.8,0a4.9,4.9 0 1,0 -9.8,0ZM520.8,335.2a4.9,4.9 0 1,0 9.8,0a4.9,4.9 0 1,0 -9.8,0ZM518.6,328.0a4.9,4.9 0 1,0 9.8,0a4.9,4.9 0 1,0 -9.8,0ZM518.7,320.3a4.9,4.9 0 1,0 9.8,0a4.9,4.9 0 1,0 -9.8,0ZM583.8,348.5a4.9,4.9 0 1,0 9.8,0a4.9,4.9 0 1,0 -9.8,0ZM583.0,355.8a4.9,4.9 0 1,0 9.8,0a4.9,4.9 0 1,0 -9.8,0ZM583.7,363.7a4.9,4.9 0 1,0 9.8,0a4.9,4.9 0 1,0 -9.8,0ZM585.7,371.1a4.9,4.9 0 1,0 9.8,0a4.9,4.9 0 1,0 -9.8,0ZM586.5,376.7a4.9,4.9 0 1,0 9.8,0a4.9,4.9 0 1,0 -9.8,0ZM586.5,383.7a4.9,4.9 0 1,0 9.8,0a4.9,4.9 0 1,0 -9.8,0ZM588.7,389.7a4.9,4.9 0 1,0 9.8,0a4.9,4.9 0 1,0 -9.8,0ZM590.3,395.6a4.9,4.9 0 1,0 9.8,0a4.9,4.9 0 1,0 -9.8,0ZM592.7,400.6a4.9,4.9 0 1,0 9.8,0a4.9,4.9 0 1,0 -9.8,0ZM593.2,406.6a4.9,4.9 0 1,0 9.8,0a4.9,4.9 0 1,0 -9.8,0ZM595.4,412.2a4.9,4.9 0 1,0 9.8,0a4.9,4.9 0 1,0 -9.8,0ZM597.6,406.8a4.9,4.9 0 1,0 9.8,0a4.9,4.9 0 1,0 -9.8,0ZM595.4,401.2a4.9,4.9 0 1,0 9.8,0a4.9,4.9 0 1,0 -9.8,0ZM592.3,396.8a4.9,4.9 0 1,0 9.8,0a4.9,4.9 0 1,0 -9.8,0ZM592.1,391.5a4.9,4.9 0 1,0 9.8,0a4.9,4.9 0 1,0 -9.8,0ZM592.0,384.6a4.9,4.9 0 1,0 9.8,0a4.9,4.9 0 1,0 -9.8,0ZM592.6,378.2a4.9,4.9 0 1,0 9.8,0a4.9,4.9 0 1,0 -9.8,0ZM591.9,371.4a4.9,4.9 0 1,0 9.8,0a4.9,4.9 0 1,0 -9.8,0ZM590.6,364.2a4.9,4.9 0 1,0 9.8,0a4.9,4.9 0 1,0 -9.8,0ZM589.6,357.9a4.9,4.9 0 1,0 9.8,0a4.9,4.9 0 1,0 -9.8,0ZM587.6,352.8a4.9,4.9 0 1,0 9.8,0a4.9,4.9 0 1,0 -9.8,0ZM594.3,433.1a4.9,4.9 0 1,0 9.8,0a4.9,4.9 0 1,0 -9.8,0ZM589.3,437.7a4.9,4.9 0 1,0 9.8,0a4.9,4.9 0 1,0 -9.8,0ZM587.0,444.3a4.9,4.9 0 1,0 9.8,0a4.9,4.9 0 1,0 -9.8,0ZM587.8,452.1a4.9,4.9 0 1,0 9.8,0a4.9,4.9 0 1,0 -9.8,0ZM587.4,458.3a4.9,4.9 0 1,0 9.8,0a4.9,4.9 0 1,0 -9.8,0ZM589.1,465.5a4.9,4.9 0 1,0 9.8,0a4.9,4.9 0 1,0 -9.8,0ZM589.0,472.6a4.9,4.9 0 1,0 9.8,0a4.9,4.9 0 1,0 -9.8,0ZM591.5,475.0a4.9,4.9 0 1,0 9.8,0a4.9,4.9 0 1,0 -9.8,0ZM593.3,469.5a4.9,4.9 0 1,0 9.8,0a4.9,4.9 0 1,0 -9.8,0ZM594.6,464.1a4.9,4.9 0 1,0 9.8,0a4.9,4.9 0 1,0 -9.8,0ZM594.0,457.8a4.9,4.9 0 1,0 9.8,0a4.9,4.9 0 1,0 -9.8,0ZM594.1,450.5a4.9,4.9 0 1,0 9.8,0a4.9,4.9 0 1,0 -9.8,0ZM594.6,444.4a4.9,4.9 0 1,0 9.8,0a4.9,4.9 0 1,0 -9.8,0ZM594.6,437.6a4.9,4.9 0 1,0 9.8,0a4.9,4.9 0 1,0 -9.8,0ZM652.3,445.5a4.9,4.9 0 1,0 9.8,0a4.9,4.9 0 1,0 -9.8,0ZM649.6,452.2a4.9,4.9 0 1,0 9.8,0a4.9,4.9 0 1,0 -9.8,0ZM648.0,459.2a4.9,4.9 0 1,0 9.8,0a4.9,4.9 0 1,0 -9.8,0ZM647.9,466.6a4.9,4.9 0 1,0 9.8,0a4.9,4.9 0 1,0 -9.8,0ZM646.8,474.3a4.9,4.9 0 1,0 9.8,0a4.9,4.9 0 1,0 -9.8,0ZM646.7,480.4a4.9,4.9 0 1,0 9.8,0a4.9,4.9 0 1,0 -9.8,0ZM647.6,487.4a4.9,4.9 0 1,0 9.8,0a4.9,4.9 0 1,0 -9.8,0ZM650.0,494.8a4.9,4.9 0 1,0 9.8,0a4.9,4.9 0 1,0 -9.8,0ZM653.9,500.8a4.9,4.9 0 1,0 9.8,0a4.9,4.9 0 1,0 -9.8,0ZM659.8,503.1a4.9,4.9 0 1,0 9.8,0a4.9,4.9 0 1,0 -9.8,0ZM662.8,498.0a4.9,4.9 0 1,0 9.8,0a4.9,4.9 0 1,0 -9.8,0ZM663.3,491.5a4.9,4.9 0 1,0 9.8,0a4.9,4.9 0 1,0 -9.8,0ZM663.4,483.6a4.9,4.9 0 1,0 9.8,0a4.9,4.9 0 1,0 -9.8,0ZM662.9,477.8a4.9,4.9 0 1,0 9.8,0a4.9,4.9 0 1,0 -9.8,0ZM662.2,471.6a4.9,4.9 0 1,0 9.8,0a4.9,4.9 0 1,0 -9.8,0ZM659.1,464.9a4.9,4.9 0 1,0 9.8,0a4.9,4.9 0 1,0 -9.8,0ZM655.7,459.9a4.9,4.9 0 1,0 9.8,0a4.9,4.9 0 1,0 -9.8,0ZM655.3,454.0a4.9,4.9 0 1,0 9.8,0a4.9,4.9 0 1,0 -9.8,0ZM653.1,448.1a4.9,4.9 0 1,0 9.8,0a4.9,4.9 0 1,0 -9.8,0ZM550.0,631.8a4.9,4.9 0 1,0 9.8,0a4.9,4.9 0 1,0 -9.8,0ZM545.8,638.2a4.9,4.9 0 1,0 9.8,0a4.9,4.9 0 1,0 -9.8,0ZM544.5,645.3a4.9,4.9 0 1,0 9.8,0a4.9,4.9 0 1,0 -9.8,0ZM544.2,652.7a4.9,4.9 0 1,0 9.8,0a4.9,4.9 0 1,0 -9.8,0ZM544.2,660.5a4.9,4.9 0 1,0 9.8,0a4.9,4.9 0 1,0 -9.8,0ZM544.6,666.6a4.9,4.9 0 1,0 9.8,0a4.9,4.9 0 1,0 -9.8,0ZM545.8,673.6a4.9,4.9 0 1,0 9.8,0a4.9,4.9 0 1,0 -9.8,0ZM547.5,680.7a4.9,4.9 0 1,0 9.8,0a4.9,4.9 0 1,0 -9.8,0ZM552.5,686.4a4.9,4.9 0 1,0 9.8,0a4.9,4.9 0 1,0 -9.8,0ZM558.2,686.4a4.9,4.9 0 1,0 9.8,0a4.9,4.9 0 1,0 -9.8,0ZM559.6,680.7a4.9,4.9 0 1,0 9.8,0a4.9,4.9 0 1,0 -9.8,0ZM561.6,674.5a4.9,4.9 0 1,0 9.8,0a4.9,4.9 0 1,0 -9.8,0ZM563.8,667.0a4.9,4.9 0 1,0 9.8,0a4.9,4.9 0 1,0 -9.8,0ZM563.5,661.3a4.9,4.9 0 1,0 9.8,0a4.9,4.9 0 1,0 -9.8,0ZM564.0,655.0a4.9,4.9 0 1,0 9.8,0a4.9,4.9 0 1,0 -9.8,0ZM564.6,647.1a4.9,4.9 0 1,0 9.8,0a4.9,4.9 0 1,0 -9.8,0ZM564.9,640.5a4.9,4.9 0 1,0 9.8,0a4.9,4.9 0 1,0 -9.8,0ZM563.5,634.7a4.9,4.9 0 1,0 9.8,0a4.9,4.9 0 1,0 -9.8,0ZM558.9,634.1a4.9,4.9 0 1,0 9.8,0a4.9,4.9 0 1,0 -9.8,0ZM551.4,632.3a4.9,4.9 0 1,0 9.8,0a4.9,4.9 0 1,0 -9.8,0Z" fill="#BEBEBE" fill-rule="nonzero"/>
<circle cx="619.7" cy="134" r="5" fill="#BEBEBE"/>
<circle cx="620.6" cy="139.5" r="5" fill="#BEBEBE"/>
<circle cx="620.2" cy="136.8" r="5.2" fill="#BEBEBE"/>
<circle cx="529.6" cy="481.2" r="4.7" fill="#BEBEBE"/>
<circle cx="538.5" cy="480.6" r="4.7" fill="#BEBEBE"/>
<circle cx="521.6" cy="473" r="4.7" fill="#BEBEBE"/>
<circle cx="560.1" cy="688.8" r="4.8" fill="#BEBEBE"/>
<circle cx="554.1" cy="685" r="4.7" fill="#BEBEBE"/>
<path d="M523.9,313.5 L523.3,313.2 L522.6,313.0 L521.9,313.0 L521.2,313.2 L520.6,313.5 L518.2,315.3 L517.7,315.8 L517.3,316.4 L517.0,317.1 L516.5,319.8 L516.3,320.3 L516.1,320.8 L515.1,322.1 L514.7,322.7 L514.5,323.4 L514.5,324.2 L514.7,324.9 L515.5,326.9 L515.7,327.6 L515.6,328.0 L515.5,328.4 L515.1,329.0 L511.8,332.3 L511.4,332.9 L511.1,333.5 L511.0,334.2 L510.5,340.4 L510.4,341.0 L510.2,341.5 L507.3,346.2 L507.0,346.8 L506.9,347.4 L506.4,351.0 L506.3,351.4 L506.1,351.8 L503.6,356.1 L503.3,356.7 L503.2,357.3 L503.2,357.9 L503.5,359.7 L503.5,360.2 L503.4,360.6 L503.2,361.1 L500.8,364.9 L500.5,365.8 L498.4,375.0 L498.3,375.6 L498.3,386.4 L498.3,386.8 L500.0,399.7 L500.0,399.8 L501.1,406.5 L501.2,406.7 L502.3,411.1 L502.4,411.5 L503.5,420.4 L503.5,420.7 L505.2,428.4 L505.3,429.1 L505.3,436.5 L505.4,437.1 L506.7,442.5 L506.9,443.1 L507.3,443.7 L510.5,447.3 L511.1,448.3 L512.3,451.5 L512.6,452.2 L513.1,452.7 L516.1,455.2 L516.5,455.8 L516.8,456.5 L518.4,463.4 L518.5,464.0 L518.8,464.5 L521.6,468.3 L521.9,468.9 L522.0,469.3 L521.9,470.0 L521.2,472.8 L521.2,473.4 L521.2,474.1 L521.5,474.8 L523.7,479.2 L524.1,479.8 L524.6,480.2 L527.9,482.7 L528.6,483.0 L529.3,483.2 L530.1,483.2 L530.8,483.0 L533.5,481.8 L534.1,481.6 L534.5,481.6 L535.1,481.8 L536.2,482.3 L536.9,482.5 L537.6,482.5 L538.3,482.4 L538.9,482.1 L539.4,481.7 L539.9,481.2 L540.4,480.5 L540.7,479.8 L540.7,479.0 L540.6,478.2 L539.7,475.8 L539.6,475.2 L539.6,474.7 L540.8,466.8 L540.9,466.6 L542.4,460.4 L542.5,459.5 L542.0,451.0 L542.0,450.9 L542.0,444.0 L542.1,443.5 L543.0,438.5 L543.1,437.7 L542.5,431.5 L542.5,431.3 L541.6,425.6 L541.4,424.9 L541.1,424.4 L538.9,421.3 L538.6,420.8 L538.5,420.4 L538.5,420.1 L538.6,419.5 L539.9,415.6 L540.1,414.9 L540.0,414.2 L539.2,409.7 L539.1,408.9 L539.5,403.4 L539.5,402.6 L539.2,401.9 L538.8,400.9 L538.5,399.8 L537.3,383.3 L537.3,383.2 L536.8,370.3 L536.6,369.3 L534.1,363.2 L533.9,362.4 L532.9,354.7 L532.7,353.9 L532.2,353.2 L530.3,350.9 L530.0,350.4 L529.8,349.8 L528.8,344.5 L528.8,343.3 L529.6,339.0 L529.7,338.3 L529.5,337.6 L526.5,328.3 L526.4,327.9 L526.4,327.4 L526.9,323.4 L526.9,322.8 L526.1,316.1 L525.8,315.3 L525.4,314.6 L524.8,314.1ZM517.4,315.9a4.9,4.9 0 1,0 9.8,0a4.9,4.9 0 1,0 -9.8,0ZM514.5,320.3a4.9,4.9 0 1,0 9.8,0a4.9,4.9 0 1,0 -9.8,0ZM513.7,327.4a4.9,4.9 0 1,0 9.8,0a4.9,4.9 0 1,0 -9.8,0ZM510.9,332.4a4.9,4.9 0 1,0 9.8,0a4.9,4.9 0 1,0 -9.8,0ZM508.6,338.9a4.9,4.9 0 1,0 9.8,0a4.9,4.9 0 1,0 -9.8,0ZM506.0,345.9a4.9,4.9 0 1,0 9.8,0a4.9,4.9 0 1,0 -9.8,0ZM503.9,352.8a4.9,4.9 0 1,0 9.8,0a4.9,4.9 0 1,0 -9.8,0ZM501.3,358.3a4.9,4.9 0 1,0 9.8,0a4.9,4.9 0 1,0 -9.8,0ZM499.7,364.3a4.9,4.9 0 1,0 9.8,0a4.9,4.9 0 1,0 -9.8,0ZM497.3,371.1a4.9,4.9 0 1,0 9.8,0a4.9,4.9 0 1,0 -9.8,0ZM496.3,378.9a4.9,4.9 0 1,0 9.8,0a4.9,4.9 0 1,0 -9.8,0ZM496.3,386.0a4.9,4.9 0 1,0 9.8,0a4.9,4.9 0 1,0 -9.8,0ZM497.1,392.8a4.9,4.9 0 1,0 9.8,0a4.9,4.9 0 1,0 -9.8,0ZM497.9,399.2a4.9,4.9 0 1,0 9.8,0a4.9,4.9 0 1,0 -9.8,0ZM499.1,405.7a4.9,4.9 0 1,0 9.8,0a4.9,4.9 0 1,0 -9.8,0ZM500.6,412.8a4.9,4.9 0 1,0 9.8,0a4.9,4.9 0 1,0 -9.8,0ZM501.4,419.3a4.9,4.9 0 1,0 9.8,0a4.9,4.9 0 1,0 -9.8,0ZM502.8,426.0a4.9,4.9 0 1,0 9.8,0a4.9,4.9 0 1,0 -9.8,0ZM503.3,433.0a4.9,4.9 0 1,0 9.8,0a4.9,4.9 0 1,0 -9.8,0ZM504.2,440.0a4.9,4.9 0 1,0 9.8,0a4.9,4.9 0 1,0 -9.8,0ZM507.1,444.6a4.9,4.9 0 1,0 9.8,0a4.9,4.9 0 1,0 -9.8,0ZM509.9,449.9a4.9,4.9 0 1,0 9.8,0a4.9,4.9 0 1,0 -9.8,0ZM514.6,455.3a4.9,4.9 0 1,0 9.8,0a4.9,4.9 0 1,0 -9.8,0ZM516.1,462.0a4.9,4.9 0 1,0 9.8,0a4.9,4.9 0 1,0 -9.8,0ZM519.9,468.5a4.9,4.9 0 1,0 9.8,0a4.9,4.9 0 1,0 -9.8,0ZM519.4,474.0a4.9,4.9 0 1,0 9.8,0a4.9,4.9 0 1,0 -9.8,0ZM522.8,478.9a4.9,4.9 0 1,0 9.8,0a4.9,4.9 0 1,0 -9.8,0ZM528.8,478.7a4.9,4.9 0 1,0 9.8,0a4.9,4.9 0 1,0 -9.8,0ZM532.0,476.5a4.9,4.9 0 1,0 9.8,0a4.9,4.9 0 1,0 -9.8,0ZM532.4,470.5a4.9,4.9 0 1,0 9.8,0a4.9,4.9 0 1,0 -9.8,0ZM533.8,463.3a4.9,4.9 0 1,0 9.8,0a4.9,4.9 0 1,0 -9.8,0ZM534.5,456.8a4.9,4.9 0 1,0 9.8,0a4.9,4.9 0 1,0 -9.8,0ZM534.2,450.6a4.9,4.9 0 1,0 9.8,0a4.9,4.9 0 1,0 -9.8,0ZM534.3,443.0a4.9,4.9 0 1,0 9.8,0a4.9,4.9 0 1,0 -9.8,0ZM535.2,437.3a4.9,4.9 0 1,0 9.8,0a4.9,4.9 0 1,0 -9.8,0ZM534.4,429.6a4.9,4.9 0 1,0 9.8,0a4.9,4.9 0 1,0 -9.8,0ZM532.2,423.8a4.9,4.9 0 1,0 9.8,0a4.9,4.9 0 1,0 -9.8,0ZM531.2,417.9a4.9,4.9 0 1,0 9.8,0a4.9,4.9 0 1,0 -9.8,0ZM531.8,412.1a4.9,4.9 0 1,0 9.8,0a4.9,4.9 0 1,0 -9.8,0ZM531.6,405.5a4.9,4.9 0 1,0 9.8,0a4.9,4.9 0 1,0 -9.8,0ZM530.5,398.1a4.9,4.9 0 1,0 9.8,0a4.9,4.9 0 1,0 -9.8,0ZM530.1,392.0a4.9,4.9 0 1,0 9.8,0a4.9,4.9 0 1,0 -9.8,0ZM529.6,385.1a4.9,4.9 0 1,0 9.8,0a4.9,4.9 0 1,0 -9.8,0ZM529.3,378.6a4.9,4.9 0 1,0 9.8,0a4.9,4.9 0 1,0 -9.8,0ZM529.1,372.3a4.9,4.9 0 1,0 9.8,0a4.9,4.9 0 1,0 -9.8,0ZM527.5,366.8a4.9,4.9 0 1,0 9.8,0a4.9,4.9 0 1,0 -9.8,0ZM525.7,359.8a4.9,4.9 0 1,0 9.8,0a4.9,4.9 0 1,0 -9.8,0ZM524.0,353.7a4.9,4.9 0 1,0 9.8,0a4.9,4.9 0 1,0 -9.8,0ZM521.5,347.7a4.9,4.9 0 1,0 9.8,0a4.9,4.9 0 1,0 -9.8,0ZM521.4,340.8a4.9,4.9 0 1,0 9.8,0a4.9,4.9 0 1,0 -9.8,0ZM520.8,335.2a4.9,4.9 0 1,0 9.8,0a4.9,4.9 0 1,0 -9.8,0ZM518.6,328.0a4.9,4.9 0 1,0 9.8,0a4.9,4.9 0 1,0 -9.8,0ZM518.7,320.3a4.9,4.9 0 1,0 9.8,0a4.9,4.9 0 1,0 -9.8,0Z" fill="#8B0000"/>
<circle cx="538.8" cy="480.9" r="4.9" fill="#B37465"/>
<circle cx="533.5" cy="479" r="4.9" fill="#8B0000"/>
<circle cx="529.6" cy="481.2" r="4.7" fill="#8B0000"/>
<circle cx="521.6" cy="473" r="4.7" fill="#8B0000"/>
<circle cx="597.0" cy="462.9" r="4.9" fill="#BDAAA5"/>
<circle cx="657.1" cy="459.5" r="4.9" fill="#BDAAA5"/>
<circle cx="588.2" cy="348.0" r="4.9" fill="#BDA59F"/>
<circle cx="596.5" cy="474.7" r="4.9" fill="#BDA59F"/>
<circle cx="668.4" cy="485.5" r="4.9" fill="#BDA59F"/>
<circle cx="567.9" cy="631.2" r="4.9" fill="#BDA59F"/>
<circle cx="598.5" cy="447.2" r="4.9" fill="#BC9D95"/>
<circle cx="564.5" cy="661.7" r="4.9" fill="#BC9D95"/>
<circle cx="654.6" cy="465.9" r="4.9" fill="#BB9A91"/>
<circle cx="660.5" cy="472.7" r="4.9" fill="#BB9A91"/>
<circle cx="656.6" cy="479.1" r="4.9" fill="#BA9085"/>
<circle cx="593.0" cy="370.6" r="4.9" fill="#B98C81"/>
<circle cx="569.4" cy="646.9" r="4.9" fill="#B98C81"/>
<circle cx="555.6" cy="673.9" r="4.9" fill="#B78478"/>
<circle cx="665.5" cy="483.0" r="4.9" fill="#B67F72"/>
<circle cx="595.0" cy="470.7" r="4.9" fill="#B37465"/>
<circle cx="656.1" cy="490.4" r="4.9" fill="#B16F5F"/>
<circle cx="593.0" cy="377.1" r="4.9" fill="#B06C5B"/>
<circle cx="599.0" cy="435.9" r="4.9" fill="#B06C5B"/>
<circle cx="571.3" cy="643.0" r="4.9" fill="#B06C5B"/>
<circle cx="566.4" cy="682.8" r="4.9" fill="#AD6352"/>
<circle cx="553.7" cy="633.7" r="4.9" fill="#AA5B49"/>
<circle cx="552.7" cy="663.1" r="4.9" fill="#AA5B49"/>
<circle cx="590.0" cy="361.0" r="4.9" fill="#A95845"/>
<circle cx="550.2" cy="656.3" r="4.9" fill="#A95845"/>
<circle cx="589.5" cy="353.2" r="4.9" fill="#A44A37"/>
<circle cx="567.4" cy="674.9" r="4.9" fill="#A44A37"/>
<circle cx="598.5" cy="455.5" r="4.9" fill="#9C3826"/>
<circle cx="658.1" cy="447.7" r="4.9" fill="#9C3826"/>
<circle cx="568.9" cy="637.6" r="4.9" fill="#982E1D"/>
<circle cx="594.3" cy="394.4" r="4.9" fill="#8B0000"/>
<circle cx="600.2" cy="413.2" r="4.9" fill="#8B0000"/>
<circle cx="549.7" cy="645.9" r="4.9" fill="#8B0000"/>
<circle cx="565.0" cy="646.4" r="4.9" fill="#8B0000"/>
<circle cx="555.6" cy="661.7" r="4.9" fill="#8B0000"/>
<circle cx="553.7" cy="679.8" r="4.9" fill="#8B0000"/>
<circle cx="562.5" cy="676.9" r="4.9" fill="#8B0000"/>
<circle cx="561.5" cy="687.2" r="4.9" fill="#8B0000"/>
<line x1="489.90" y1="90.2" x2="489.90" y2="741.35" stroke="#000" stroke-width="2.7"/>
<line x1="488.55" y1="740" x2="682.70" y2="740" stroke="#000" stroke-width="2.7"/>
<line x1="480.60" y1="177.5" x2="489.90" y2="177.5" stroke="#000" stroke-width="2.7"/>
<line x1="480.60" y1="317.8" x2="489.90" y2="317.8" stroke="#000" stroke-width="2.7"/>
<line x1="480.60" y1="458.15" x2="489.90" y2="458.15" stroke="#000" stroke-width="2.7"/>
<line x1="480.60" y1="598.5" x2="489.90" y2="598.5" stroke="#000" stroke-width="2.7"/>
<line x1="480.60" y1="738.8" x2="489.90" y2="738.8" stroke="#000" stroke-width="2.7"/>
<line x1="492.00" y1="740" x2="492.00" y2="749.3" stroke="#000" stroke-width="2.7"/>
<line x1="556.50" y1="740" x2="556.50" y2="749.3" stroke="#000" stroke-width="2.7"/>
<line x1="621.10" y1="740" x2="621.10" y2="749.3" stroke="#000" stroke-width="2.7"/>
<path d="M866.6,313.5 L866.0,313.2 L865.3,313.0 L864.6,313.0 L863.9,313.2 L863.3,313.5 L860.9,315.3 L860.4,315.8 L860.0,316.4 L859.7,317.1 L859.2,319.8 L859.0,320.3 L858.8,320.8 L857.8,322.1 L857.4,322.7 L857.2,323.4 L857.2,324.2 L857.4,324.9 L858.2,326.9 L858.4,327.6 L858.3,328.0 L858.2,328.4 L857.8,329.0 L854.5,332.3 L854.1,332.9 L853.8,333.5 L853.7,334.2 L853.2,340.4 L853.1,341.0 L852.9,341.5 L850.0,346.2 L849.7,346.8 L849.6,347.4 L849.1,351.0 L849.0,351.4 L848.8,351.8 L846.3,356.1 L846.0,356.7 L845.9,357.3 L845.9,357.9 L846.2,359.7 L846.2,360.2 L846.1,360.6 L845.9,361.1 L843.5,364.9 L843.2,365.8 L841.1,375.0 L841.0,375.6 L841.0,386.4 L841.0,386.8 L842.7,399.7 L842.7,399.8 L843.8,406.5 L843.9,406.7 L845.0,411.1 L845.1,411.5 L846.2,420.4 L846.2,420.7 L847.9,428.4 L848.0,429.1 L848.0,436.5 L848.1,437.1 L849.4,442.5 L849.6,443.1 L850.0,443.7 L853.2,447.3 L853.8,448.3 L855.0,451.5 L855.3,452.2 L855.8,452.7 L858.8,455.2 L859.2,455.8 L859.5,456.5 L861.1,463.4 L861.2,464.0 L861.5,464.5 L864.3,468.3 L864.6,468.9 L864.7,469.3 L864.6,470.0 L863.9,472.8 L863.9,473.4 L863.9,474.1 L864.2,474.8 L866.4,479.2 L866.8,479.8 L867.3,480.2 L870.6,482.7 L871.3,483.0 L872.0,483.2 L872.8,483.2 L873.5,483.0 L876.2,481.8 L876.8,481.6 L877.2,481.6 L877.8,481.8 L878.9,482.3 L879.6,482.5 L880.3,482.5 L881.0,482.4 L881.6,482.1 L882.1,481.7 L882.6,481.2 L883.1,480.5 L883.4,479.8 L883.4,479.0 L883.3,478.2 L882.4,475.8 L882.3,475.2 L882.3,474.7 L883.5,466.8 L883.6,466.6 L885.1,460.4 L885.2,459.5 L884.7,451.0 L884.7,450.9 L884.7,444.0 L884.8,443.5 L885.7,438.5 L885.8,437.7 L885.2,431.5 L885.2,431.3 L884.3,425.6 L884.1,424.9 L883.8,424.4 L881.6,421.3 L881.3,420.8 L881.2,420.4 L881.2,420.1 L881.3,419.5 L882.6,415.6 L882.8,414.9 L882.7,414.2 L881.9,409.7 L881.8,408.9 L882.2,403.4 L882.2,402.6 L881.9,401.9 L881.5,400.9 L881.2,399.8 L880.0,383.3 L880.0,383.2 L879.5,370.3 L879.3,369.3 L876.8,363.2 L876.6,362.4 L875.6,354.7 L875.4,353.9 L874.9,353.2 L873.0,350.9 L872.7,350.4 L872.5,349.8 L871.5,344.5 L871.5,343.3 L872.3,339.0 L872.4,338.3 L872.2,337.6 L869.2,328.3 L869.1,327.9 L869.1,327.4 L869.6,323.4 L869.6,322.8 L868.8,316.1 L868.5,315.3 L868.1,314.6 L867.5,314.1Z M932.4,346.8 L931.9,346.6 L931.4,346.5 L930.9,346.6 L930.5,346.7 L930.1,347.0 L928.9,348.0 L928.6,348.5 L928.3,349.0 L928.3,349.6 L928.6,356.5 L928.6,356.6 L929.5,365.6 L929.5,366.1 L932.0,373.3 L932.1,374.2 L932.1,385.4 L932.2,385.8 L932.3,386.2 L934.5,390.5 L934.7,391.2 L934.6,391.9 L934.3,393.9 L934.2,394.4 L934.4,394.9 L934.6,395.4 L935.0,395.8 L937.5,397.9 L937.9,398.3 L938.1,398.7 L938.2,399.2 L938.5,403.7 L938.5,403.8 L939.3,410.6 L939.4,411.1 L939.7,411.6 L941.2,413.6 L941.6,414.0 L942.0,414.2 L942.5,414.3 L943.1,414.3 L943.6,414.2 L944.0,414.0 L944.4,413.6 L946.7,410.7 L946.9,410.2 L947.1,409.6 L947.4,403.8 L947.4,403.2 L947.2,402.7 L946.9,402.2 L942.5,397.8 L942.1,397.4 L942.0,396.9 L941.9,396.5 L942.0,395.9 L942.7,394.2 L942.8,393.6 L942.8,393.0 L942.5,392.4 L940.9,389.7 L940.7,389.2 L940.6,388.8 L940.7,388.3 L942.3,381.9 L942.4,381.3 L941.9,373.5 L941.9,373.3 L939.7,361.3 L939.7,361.2 L938.7,354.4 L938.5,353.9 L938.3,353.4 L934.0,347.9 L933.7,347.6 L933.4,347.3Z M944.8,432.8 L944.6,432.1 L944.3,431.4 L943.7,430.9 L943.1,430.5 L942.3,430.3 L941.5,430.3 L940.8,430.5 L940.1,430.9 L938.1,432.5 L937.9,432.7 L935.6,435.0 L935.4,435.1 L932.9,437.3 L932.4,437.9 L932.1,438.5 L932.0,439.3 L931.6,443.8 L931.7,444.5 L932.6,450.7 L932.6,451.4 L932.1,458.3 L932.2,459.2 L934.4,468.3 L934.5,468.8 L934.4,469.3 L933.2,474.5 L933.1,475.3 L933.2,476.0 L933.5,476.7 L933.9,477.3 L935.1,478.4 L935.7,478.9 L936.5,479.2 L937.3,479.3 L938.8,479.2 L939.6,479.0 L940.3,478.6 L940.9,478.0 L941.3,477.3 L943.1,472.4 L943.2,472.1 L945.4,463.5 L945.5,462.8 L945.4,462.2 L944.2,455.5 L944.1,454.6 L945.1,447.3 L945.1,446.9 L945.1,435.6 L945.1,435.3Z M1001.2,442.9 L1000.4,442.6 L999.6,442.6 L998.9,442.8 L998.2,443.2 L996.1,444.8 L995.5,445.3 L995.1,446.1 L994.9,446.9 L994.6,450.6 L994.5,451.2 L992.8,457.3 L992.7,458.1 L992.7,465.3 L992.7,465.7 L991.2,476.0 L991.2,476.5 L991.7,485.4 L991.8,486.1 L994.0,493.4 L994.0,493.5 L996.4,500.5 L996.8,501.1 L997.2,501.7 L997.8,502.1 L1005.5,506.2 L1005.6,506.2 L1005.7,506.3 L1006.4,506.5 L1007.1,506.6 L1007.8,506.5 L1008.5,506.2 L1009.1,505.8 L1009.5,505.2 L1010.3,503.9 L1010.3,503.8 L1013.2,499.0 L1013.4,498.3 L1013.5,497.6 L1014.0,485.2 L1014.0,484.9 L1013.0,472.7 L1013.0,472.2 L1011.2,465.0 L1010.9,464.3 L1010.6,463.8 L1010.1,463.3 L1009.5,463.0 L1007.4,462.1 L1006.8,461.7 L1006.5,461.4 L1006.3,460.9 L1006.2,460.3 L1006.2,454.7 L1006.1,454.0 L1005.9,453.4 L1004.0,449.7 L1003.7,448.6 L1003.4,445.5 L1003.3,444.8 L1002.9,444.1 L1002.4,443.6 L1001.8,443.2Z M898.4,629.1 L897.7,628.9 L897.0,629.0 L896.3,629.2 L895.7,629.7 L893.7,631.3 L893.3,631.7 L893.0,632.2 L890.8,636.8 L890.6,637.5 L889.2,644.5 L889.2,644.9 L888.7,656.2 L888.7,656.4 L889.2,665.8 L889.2,666.1 L890.6,674.4 L890.7,675.3 L890.4,678.1 L890.4,678.9 L890.6,679.6 L891.0,680.2 L893.7,683.6 L893.8,683.7 L897.7,688.2 L898.3,688.7 L901.4,690.7 L902.1,691.1 L902.9,691.2 L903.7,691.1 L904.4,690.9 L907.2,689.3 L907.8,688.8 L908.3,688.2 L908.6,687.4 L910.6,678.7 L910.8,678.1 L914.2,670.3 L914.4,669.7 L914.4,669.0 L914.0,660.4 L914.0,659.9 L915.0,649.4 L915.0,649.2 L915.5,639.3 L915.3,638.3 L913.5,632.4 L913.1,631.7 L912.6,631.1 L911.9,630.5 L911.2,630.0 L910.4,629.8 L909.5,629.8 L908.7,630.1 L906.7,631.1 L906.1,631.2 L905.7,631.3 L905.1,631.2ZM860.1,315.9a4.9,4.9 0 1,0 9.8,0a4.9,4.9 0 1,0 -9.8,0ZM857.2,320.3a4.9,4.9 0 1,0 9.8,0a4.9,4.9 0 1,0 -9.8,0ZM856.4,327.4a4.9,4.9 0 1,0 9.8,0a4.9,4.9 0 1,0 -9.8,0ZM853.6,332.4a4.9,4.9 0 1,0 9.8,0a4.9,4.9 0 1,0 -9.8,0ZM851.3,338.9a4.9,4.9 0 1,0 9.8,0a4.9,4.9 0 1,0 -9.8,0ZM848.7,345.9a4.9,4.9 0 1,0 9.8,0a4.9,4.9 0 1,0 -9.8,0ZM846.6,352.8a4.9,4.9 0 1,0 9.8,0a4.9,4.9 0 1,0 -9.8,0ZM844.0,358.3a4.9,4.9 0 1,0 9.8,0a4.9,4.9 0 1,0 -9.8,0ZM842.4,364.3a4.9,4.9 0 1,0 9.8,0a4.9,4.9 0 1,0 -9.8,0ZM840.0,371.1a4.9,4.9 0 1,0 9.8,0a4.9,4.9 0 1,0 -9.8,0ZM839.0,378.9a4.9,4.9 0 1,0 9.8,0a4.9,4.9 0 1,0 -9.8,0ZM839.0,386.0a4.9,4.9 0 1,0 9.8,0a4.9,4.9 0 1,0 -9.8,0ZM839.8,392.8a4.9,4.9 0 1,0 9.8,0a4.9,4.9 0 1,0 -9.8,0ZM840.6,399.2a4.9,4.9 0 1,0 9.8,0a4.9,4.9 0 1,0 -9.8,0ZM841.8,405.7a4.9,4.9 0 1,0 9.8,0a4.9,4.9 0 1,0 -9.8,0ZM843.3,412.8a4.9,4.9 0 1,0 9.8,0a4.9,4.9 0 1,0 -9.8,0ZM844.1,419.3a4.9,4.9 0 1,0 9.8,0a4.9,4.9 0 1,0 -9.8,0ZM845.5,426.0a4.9,4.9 0 1,0 9.8,0a4.9,4.9 0 1,0 -9.8,0ZM846.0,433.0a4.9,4.9 0 1,0 9.8,0a4.9,4.9 0 1,0 -9.8,0ZM846.9,440.0a4.9,4.9 0 1,0 9.8,0a4.9,4.9 0 1,0 -9.8,0ZM849.8,444.6a4.9,4.9 0 1,0 9.8,0a4.9,4.9 0 1,0 -9.8,0ZM852.6,449.9a4.9,4.9 0 1,0 9.8,0a4.9,4.9 0 1,0 -9.8,0ZM857.3,455.3a4.9,4.9 0 1,0 9.8,0a4.9,4.9 0 1,0 -9.8,0ZM858.8,462.0a4.9,4.9 0 1,0 9.8,0a4.9,4.9 0 1,0 -9.8,0ZM862.6,468.5a4.9,4.9 0 1,0 9.8,0a4.9,4.9 0 1,0 -9.8,0ZM862.1,474.0a4.9,4.9 0 1,0 9.8,0a4.9,4.9 0 1,0 -9.8,0ZM865.5,478.9a4.9,4.9 0 1,0 9.8,0a4.9,4.9 0 1,0 -9.8,0ZM871.5,478.7a4.9,4.9 0 1,0 9.8,0a4.9,4.9 0 1,0 -9.8,0ZM874.7,476.5a4.9,4.9 0 1,0 9.8,0a4.9,4.9 0 1,0 -9.8,0ZM875.1,470.5a4.9,4.9 0 1,0 9.8,0a4.9,4.9 0 1,0 -9.8,0ZM876.5,463.3a4.9,4.9 0 1,0 9.8,0a4.9,4.9 0 1,0 -9.8,0ZM877.2,456.8a4.9,4.9 0 1,0 9.8,0a4.9,4.9 0 1,0 -9.8,0ZM876.9,450.6a4.9,4.9 0 1,0 9.8,0a4.9,4.9 0 1,0 -9.8,0ZM877.0,443.0a4.9,4.9 0 1,0 9.8,0a4.9,4.9 0 1,0 -9.8,0ZM877.9,437.3a4.9,4.9 0 1,0 9.8,0a4.9,4.9 0 1,0 -9.8,0ZM877.1,429.6a4.9,4.9 0 1,0 9.8,0a4.9,4.9 0 1,0 -9.8,0ZM874.9,423.8a4.9,4.9 0 1,0 9.8,0a4.9,4.9 0 1,0 -9.8,0ZM873.9,417.9a4.9,4.9 0 1,0 9.8,0a4.9,4.9 0 1,0 -9.8,0ZM874.5,412.1a4.9,4.9 0 1,0 9.8,0a4.9,4.9 0 1,0 -9.8,0ZM874.3,405.5a4.9,4.9 0 1,0 9.8,0a4.9,4.9 0 1,0 -9.8,0ZM873.2,398.1a4.9,4.9 0 1,0 9.8,0a4.9,4.9 0 1,0 -9.8,0ZM872.8,392.0a4.9,4.9 0 1,0 9.8,0a4.9,4.9 0 1,0 -9.8,0ZM872.3,385.1a4.9,4.9 0 1,0 9.8,0a4.9,4.9 0 1,0 -9.8,0ZM872.0,378.6a4.9,4.9 0 1,0 9.8,0a4.9,4.9 0 1,0 -9.8,0ZM871.8,372.3a4.9,4.9 0 1,0 9.8,0a4.9,4.9 0 1,0 -9.8,0ZM870.2,366.8a4.9,4.9 0 1,0 9.8,0a4.9,4.9 0 1,0 -9.8,0ZM868.4,359.8a4.9,4.9 0 1,0 9.8,0a4.9,4.9 0 1,0 -9.8,0ZM866.7,353.7a4.9,4.9 0 1,0 9.8,0a4.9,4.9 0 1,0 -9.8,0ZM864.2,347.7a4.9,4.9 0 1,0 9.8,0a4.9,4.9 0 1,0 -9.8,0ZM864.1,340.8a4.9,4.9 0 1,0 9.8,0a4.9,4.9 0 1,0 -9.8,0ZM863.5,335.2a4.9,4.9 0 1,0 9.8,0a4.9,4.9 0 1,0 -9.8,0ZM861.3,328.0a4.9,4.9 0 1,0 9.8,0a4.9,4.9 0 1,0 -9.8,0ZM861.4,320.3a4.9,4.9 0 1,0 9.8,0a4.9,4.9 0 1,0 -9.8,0ZM926.5,348.5a4.9,4.9 0 1,0 9.8,0a4.9,4.9 0 1,0 -9.8,0ZM925.7,355.8a4.9,4.9 0 1,0 9.8,0a4.9,4.9 0 1,0 -9.8,0ZM926.4,363.7a4.9,4.9 0 1,0 9.8,0a4.9,4.9 0 1,0 -9.8,0ZM928.4,371.1a4.9,4.9 0 1,0 9.8,0a4.9,4.9 0 1,0 -9.8,0ZM929.2,376.7a4.9,4.9 0 1,0 9.8,0a4.9,4.9 0 1,0 -9.8,0ZM929.2,383.7a4.9,4.9 0 1,0 9.8,0a4.9,4.9 0 1,0 -9.8,0ZM931.4,389.7a4.9,4.9 0 1,0 9.8,0a4.9,4.9 0 1,0 -9.8,0ZM933.0,395.6a4.9,4.9 0 1,0 9.8,0a4.9,4.9 0 1,0 -9.8,0ZM935.4,400.6a4.9,4.9 0 1,0 9.8,0a4.9,4.9 0 1,0 -9.8,0ZM935.9,406.6a4.9,4.9 0 1,0 9.8,0a4.9,4.9 0 1,0 -9.8,0ZM938.1,412.2a4.9,4.9 0 1,0 9.8,0a4.9,4.9 0 1,0 -9.8,0ZM940.3,406.8a4.9,4.9 0 1,0 9.8,0a4.9,4.9 0 1,0 -9.8,0ZM938.1,401.2a4.9,4.9 0 1,0 9.8,0a4.9,4.9 0 1,0 -9.8,0ZM935.0,396.8a4.9,4.9 0 1,0 9.8,0a4.9,4.9 0 1,0 -9.8,0ZM934.8,391.5a4.9,4.9 0 1,0 9.8,0a4.9,4.9 0 1,0 -9.8,0ZM934.7,384.6a4.9,4.9 0 1,0 9.8,0a4.9,4.9 0 1,0 -9.8,0ZM935.3,378.2a4.9,4.9 0 1,0 9.8,0a4.9,4.9 0 1,0 -9.8,0ZM934.6,371.4a4.9,4.9 0 1,0 9.8,0a4.9,4.9 0 1,0 -9.8,0ZM933.3,364.2a4.9,4.9 0 1,0 9.8,0a4.9,4.9 0 1,0 -9.8,0ZM932.3,357.9a4.9,4.9 0 1,0 9.8,0a4.9,4.9 0 1,0 -9.8,0ZM930.3,352.8a4.9,4.9 0 1,0 9.8,0a4.9,4.9 0 1,0 -9.8,0ZM937.0,433.1a4.9,4.9 0 1,0 9.8,0a4.9,4.9 0 1,0 -9.8,0ZM932.0,437.7a4.9,4.9 0 1,0 9.8,0a4.9,4.9 0 1,0 -9.8,0ZM929.7,444.3a4.9,4.9 0 1,0 9.8,0a4.9,4.9 0 1,0 -9.8,0ZM930.5,452.1a4.9,4.9 0 1,0 9.8,0a4.9,4.9 0 1,0 -9.8,0ZM930.1,458.3a4.9,4.9 0 1,0 9.8,0a4.9,4.9 0 1,0 -9.8,0ZM931.8,465.5a4.9,4.9 0 1,0 9.8,0a4.9,4.9 0 1,0 -9.8,0ZM931.7,472.6a4.9,4.9 0 1,0 9.8,0a4.9,4.9 0 1,0 -9.8,0ZM934.2,475.0a4.9,4.9 0 1,0 9.8,0a4.9,4.9 0 1,0 -9.8,0ZM936.0,469.5a4.9,4.9 0 1,0 9.8,0a4.9,4.9 0 1,0 -9.8,0ZM937.3,464.1a4.9,4.9 0 1,0 9.8,0a4.9,4.9 0 1,0 -9.8,0ZM936.7,457.8a4.9,4.9 0 1,0 9.8,0a4.9,4.9 0 1,0 -9.8,0ZM936.8,450.5a4.9,4.9 0 1,0 9.8,0a4.9,4.9 0 1,0 -9.8,0ZM937.3,444.4a4.9,4.9 0 1,0 9.8,0a4.9,4.9 0 1,0 -9.8,0ZM937.3,437.6a4.9,4.9 0 1,0 9.8,0a4.9,4.9 0 1,0 -9.8,0ZM995.0,445.5a4.9,4.9 0 1,0 9.8,0a4.9,4.9 0 1,0 -9.8,0ZM992.3,452.2a4.9,4.9 0 1,0 9.8,0a4.9,4.9 0 1,0 -9.8,0ZM990.7,459.2a4.9,4.9 0 1,0 9.8,0a4.9,4.9 0 1,0 -9.8,0ZM990.6,466.6a4.9,4.9 0 1,0 9.8,0a4.9,4.9 0 1,0 -9.8,0ZM989.5,474.3a4.9,4.9 0 1,0 9.8,0a4.9,4.9 0 1,0 -9.8,0ZM989.4,480.4a4.9,4.9 0 1,0 9.8,0a4.9,4.9 0 1,0 -9.8,0ZM990.3,487.4a4.9,4.9 0 1,0 9.8,0a4.9,4.9 0 1,0 -9.8,0ZM992.7,494.8a4.9,4.9 0 1,0 9.8,0a4.9,4.9 0 1,0 -9.8,0ZM996.6,500.8a4.9,4.9 0 1,0 9.8,0a4.9,4.9 0 1,0 -9.8,0ZM1002.5,503.1a4.9,4.9 0 1,0 9.8,0a4.9,4.9 0 1,0 -9.8,0ZM1005.5,498.0a4.9,4.9 0 1,0 9.8,0a4.9,4.9 0 1,0 -9.8,0ZM1006.0,491.5a4.9,4.9 0 1,0 9.8,0a4.9,4.9 0 1,0 -9.8,0ZM1006.1,483.6a4.9,4.9 0 1,0 9.8,0a4.9,4.9 0 1,0 -9.8,0ZM1005.6,477.8a4.9,4.9 0 1,0 9.8,0a4.9,4.9 0 1,0 -9.8,0ZM1004.9,471.6a4.9,4.9 0 1,0 9.8,0a4.9,4.9 0 1,0 -9.8,0ZM1001.8,464.9a4.9,4.9 0 1,0 9.8,0a4.9,4.9 0 1,0 -9.8,0ZM998.4,459.9a4.9,4.9 0 1,0 9.8,0a4.9,4.9 0 1,0 -9.8,0ZM998.0,454.0a4.9,4.9 0 1,0 9.8,0a4.9,4.9 0 1,0 -9.8,0ZM995.8,448.1a4.9,4.9 0 1,0 9.8,0a4.9,4.9 0 1,0 -9.8,0ZM892.7,631.8a4.9,4.9 0 1,0 9.8,0a4.9,4.9 0 1,0 -9.8,0ZM888.5,638.2a4.9,4.9 0 1,0 9.8,0a4.9,4.9 0 1,0 -9.8,0ZM887.2,645.3a4.9,4.9 0 1,0 9.8,0a4.9,4.9 0 1,0 -9.8,0ZM886.9,652.7a4.9,4.9 0 1,0 9.8,0a4.9,4.9 0 1,0 -9.8,0ZM886.9,660.5a4.9,4.9 0 1,0 9.8,0a4.9,4.9 0 1,0 -9.8,0ZM887.3,666.6a4.9,4.9 0 1,0 9.8,0a4.9,4.9 0 1,0 -9.8,0ZM888.5,673.6a4.9,4.9 0 1,0 9.8,0a4.9,4.9 0 1,0 -9.8,0ZM890.2,680.7a4.9,4.9 0 1,0 9.8,0a4.9,4.9 0 1,0 -9.8,0ZM895.2,686.4a4.9,4.9 0 1,0 9.8,0a4.9,4.9 0 1,0 -9.8,0ZM900.9,686.4a4.9,4.9 0 1,0 9.8,0a4.9,4.9 0 1,0 -9.8,0ZM902.3,680.7a4.9,4.9 0 1,0 9.8,0a4.9,4.9 0 1,0 -9.8,0ZM904.3,674.5a4.9,4.9 0 1,0 9.8,0a4.9,4.9 0 1,0 -9.8,0ZM906.5,667.0a4.9,4.9 0 1,0 9.8,0a4.9,4.9 0 1,0 -9.8,0ZM906.2,661.3a4.9,4.9 0 1,0 9.8,0a4.9,4.9 0 1,0 -9.8,0ZM906.7,655.0a4.9,4.9 0 1,0 9.8,0a4.9,4.9 0 1,0 -9.8,0ZM907.3,647.1a4.9,4.9 0 1,0 9.8,0a4.9,4.9 0 1,0 -9.8,0ZM907.6,640.5a4.9,4.9 0 1,0 9.8,0a4.9,4.9 0 1,0 -9.8,0ZM906.2,634.7a4.9,4.9 0 1,0 9.8,0a4.9,4.9 0 1,0 -9.8,0ZM901.6,634.1a4.9,4.9 0 1,0 9.8,0a4.9,4.9 0 1,0 -9.8,0ZM894.1,632.3a4.9,4.9 0 1,0 9.8,0a4.9,4.9 0 1,0 -9.8,0Z" fill="#BEBEBE" fill-rule="nonzero"/>
<circle cx="962.4" cy="134" r="5" fill="#BEBEBE"/>
<circle cx="963.3" cy="139.5" r="5" fill="#BEBEBE"/>
<circle cx="962.9" cy="136.8" r="5.2" fill="#BEBEBE"/>
<circle cx="872.3" cy="481.2" r="4.7" fill="#BEBEBE"/>
<circle cx="881.2" cy="480.6" r="4.7" fill="#BEBEBE"/>
<circle cx="864.3" cy="473" r="4.7" fill="#BEBEBE"/>
<circle cx="902.8" cy="688.8" r="4.8" fill="#BEBEBE"/>
<circle cx="896.8" cy="685" r="4.7" fill="#BEBEBE"/>
<circle cx="881.1" cy="443.6" r="4.9" fill="#BEB6B4"/>
<circle cx="931.7" cy="356.0" r="4.9" fill="#BEB6B4"/>
<circle cx="848.3" cy="394.1" r="4.9" fill="#BDADA9"/>
<circle cx="875.9" cy="401.0" r="4.9" fill="#BDAAA5"/>
<circle cx="869.0" cy="459.8" r="4.9" fill="#BDAAA5"/>
<circle cx="864.1" cy="315.5" r="4.9" fill="#BDA59F"/>
<circle cx="848.8" cy="356.4" r="4.9" fill="#BDA59F"/>
<circle cx="861.7" cy="365.3" r="4.9" fill="#BDA59F"/>
<circle cx="843.9" cy="372.2" r="4.9" fill="#BDA59F"/>
<circle cx="845.5" cy="377.9" r="4.9" fill="#BDA59F"/>
<circle cx="875.0" cy="406.3" r="4.9" fill="#BDA59F"/>
<circle cx="868.6" cy="438.3" r="4.9" fill="#BDA59F"/>
<circle cx="869.0" cy="450.1" r="4.9" fill="#BDA59F"/>
<circle cx="865.7" cy="334.1" r="4.9" fill="#BC9D95"/>
<circle cx="852.0" cy="407.1" r="4.9" fill="#BC9D95"/>
<circle cx="860.9" cy="423.7" r="4.9" fill="#BC9D95"/>
<circle cx="860.9" cy="426.2" r="4.9" fill="#BC9D95"/>
<circle cx="862.9" cy="380.0" r="4.9" fill="#BB9A91"/>
<circle cx="876.3" cy="420.8" r="4.9" fill="#BB9A91"/>
<circle cx="850.0" cy="398.2" r="4.9" fill="#BA958B"/>
<circle cx="863.3" cy="324.4" r="4.9" fill="#B98C81"/>
<circle cx="852.0" cy="429.0" r="4.9" fill="#B98C81"/>
<circle cx="854.4" cy="439.2" r="4.9" fill="#B98C81"/>
<circle cx="870.2" cy="467.5" r="4.9" fill="#B98C81"/>
<circle cx="875.0" cy="384.0" r="4.9" fill="#B78478"/>
<circle cx="881.9" cy="460.2" r="4.9" fill="#B57C6E"/>
<circle cx="858.5" cy="407.1" r="4.9" fill="#B37465"/>
<circle cx="877.6" cy="431.4" r="4.9" fill="#B37465"/>
<circle cx="875.9" cy="469.5" r="4.9" fill="#B37465"/>
<circle cx="867.4" cy="337.0" r="4.9" fill="#B06C5B"/>
<circle cx="866.1" cy="366.1" r="4.9" fill="#B06C5B"/>
<circle cx="852.0" cy="371.8" r="4.9" fill="#AF6858"/>
<circle cx="856.8" cy="351.9" r="4.9" fill="#AD6352"/>
<circle cx="870.6" cy="376.7" r="4.9" fill="#AA5B49"/>
<circle cx="867.8" cy="419.6" r="4.9" fill="#AA5B49"/>
<circle cx="864.9" cy="446.4" r="4.9" fill="#AA5B49"/>
<circle cx="854.8" cy="421.2" r="4.9" fill="#A75240"/>
<circle cx="862.9" cy="321.2" r="4.9" fill="#A54D3B"/>
<circle cx="855.6" cy="434.8" r="4.9" fill="#A54D3B"/>
<circle cx="853.6" cy="347.9" r="4.9" fill="#A44A37"/>
<circle cx="861.3" cy="413.1" r="4.9" fill="#9C3826"/>
<circle cx="863.3" cy="403.4" r="4.9" fill="#9A3422"/>
<circle cx="873.2" cy="429.4" r="4.9" fill="#8B0000"/>
<line x1="832.60" y1="90.2" x2="832.60" y2="741.35" stroke="#000" stroke-width="2.7"/>
<line x1="831.25" y1="740" x2="1025.40" y2="740" stroke="#000" stroke-width="2.7"/>
<line x1="823.30" y1="177.5" x2="832.60" y2="177.5" stroke="#000" stroke-width="2.7"/>
<line x1="823.30" y1="317.8" x2="832.60" y2="317.8" stroke="#000" stroke-width="2.7"/>
<line x1="823.30" y1="458.15" x2="832.60" y2="458.15" stroke="#000" stroke-width="2.7"/>
<line x1="823.30" y1="598.5" x2="832.60" y2="598.5" stroke="#000" stroke-width="2.7"/>
<line x1="823.30" y1="738.8" x2="832.60" y2="738.8" stroke="#000" stroke-width="2.7"/>
<line x1="834.70" y1="740" x2="834.70" y2="749.3" stroke="#000" stroke-width="2.7"/>
<line x1="899.20" y1="740" x2="899.20" y2="749.3" stroke="#000" stroke-width="2.7"/>
<line x1="963.80" y1="740" x2="963.80" y2="749.3" stroke="#000" stroke-width="2.7"/>
<path d="M1209.3,313.5 L1208.7,313.2 L1208.0,313.0 L1207.3,313.0 L1206.6,313.2 L1206.0,313.5 L1203.6,315.3 L1203.1,315.8 L1202.7,316.4 L1202.4,317.1 L1201.9,319.8 L1201.7,320.3 L1201.5,320.8 L1200.5,322.1 L1200.1,322.7 L1199.9,323.4 L1199.9,324.2 L1200.1,324.9 L1200.9,326.9 L1201.1,327.6 L1201.0,328.0 L1200.9,328.4 L1200.5,329.0 L1197.2,332.3 L1196.8,332.9 L1196.5,333.5 L1196.4,334.2 L1195.9,340.4 L1195.8,341.0 L1195.6,341.5 L1192.7,346.2 L1192.4,346.8 L1192.3,347.4 L1191.8,351.0 L1191.7,351.4 L1191.5,351.8 L1189.0,356.1 L1188.7,356.7 L1188.6,357.3 L1188.6,357.9 L1188.9,359.7 L1188.9,360.2 L1188.8,360.6 L1188.6,361.1 L1186.2,364.9 L1185.9,365.8 L1183.8,375.0 L1183.7,375.6 L1183.7,386.4 L1183.7,386.8 L1185.4,399.7 L1185.4,399.8 L1186.5,406.5 L1186.6,406.7 L1187.7,411.1 L1187.8,411.5 L1188.9,420.4 L1188.9,420.7 L1190.6,428.4 L1190.7,429.1 L1190.7,436.5 L1190.8,437.1 L1192.1,442.5 L1192.3,443.1 L1192.7,443.7 L1195.9,447.3 L1196.5,448.3 L1197.7,451.5 L1198.0,452.2 L1198.5,452.7 L1201.5,455.2 L1201.9,455.8 L1202.2,456.5 L1203.8,463.4 L1203.9,464.0 L1204.2,464.5 L1207.0,468.3 L1207.3,468.9 L1207.4,469.3 L1207.3,470.0 L1206.6,472.8 L1206.6,473.4 L1206.6,474.1 L1206.9,474.8 L1209.1,479.2 L1209.5,479.8 L1210.0,480.2 L1213.3,482.7 L1214.0,483.0 L1214.7,483.2 L1215.5,483.2 L1216.2,483.0 L1218.9,481.8 L1219.5,481.6 L1219.9,481.6 L1220.5,481.8 L1221.6,482.3 L1222.3,482.5 L1223.0,482.5 L1223.7,482.4 L1224.3,482.1 L1224.8,481.7 L1225.3,481.2 L1225.8,480.5 L1226.1,479.8 L1226.1,479.0 L1226.0,478.2 L1225.1,475.8 L1225.0,475.2 L1225.0,474.7 L1226.2,466.8 L1226.3,466.6 L1227.8,460.4 L1227.9,459.5 L1227.4,451.0 L1227.4,450.9 L1227.4,444.0 L1227.5,443.5 L1228.4,438.5 L1228.5,437.7 L1227.9,431.5 L1227.9,431.3 L1227.0,425.6 L1226.8,424.9 L1226.5,424.4 L1224.3,421.3 L1224.0,420.8 L1223.9,420.4 L1223.9,420.1 L1224.0,419.5 L1225.3,415.6 L1225.5,414.9 L1225.4,414.2 L1224.6,409.7 L1224.5,408.9 L1224.9,403.4 L1224.9,402.6 L1224.6,401.9 L1224.2,400.9 L1223.9,399.8 L1222.7,383.3 L1222.7,383.2 L1222.2,370.3 L1222.0,369.3 L1219.5,363.2 L1219.3,362.4 L1218.3,354.7 L1218.1,353.9 L1217.6,353.2 L1215.7,350.9 L1215.4,350.4 L1215.2,349.8 L1214.2,344.5 L1214.2,343.3 L1215.0,339.0 L1215.1,338.3 L1214.9,337.6 L1211.9,328.3 L1211.8,327.9 L1211.8,327.4 L1212.3,323.4 L1212.3,322.8 L1211.5,316.1 L1211.2,315.3 L1210.8,314.6 L1210.2,314.1Z M1275.1,346.8 L1274.6,346.6 L1274.1,346.5 L1273.6,346.6 L1273.2,346.7 L1272.8,347.0 L1271.6,348.0 L1271.3,348.5 L1271.0,349.0 L1271.0,349.6 L1271.3,356.5 L1271.3,356.6 L1272.2,365.6 L1272.2,366.1 L1274.7,373.3 L1274.8,374.2 L1274.8,385.4 L1274.9,385.8 L1275.0,386.2 L1277.2,390.5 L1277.4,391.2 L1277.3,391.9 L1277.0,393.9 L1276.9,394.4 L1277.1,394.9 L1277.3,395.4 L1277.7,395.8 L1280.2,397.9 L1280.6,398.3 L1280.8,398.7 L1280.9,399.2 L1281.2,403.7 L1281.2,403.8 L1282.0,410.6 L1282.1,411.1 L1282.4,411.6 L1283.9,413.6 L1284.3,414.0 L1284.7,414.2 L1285.2,414.3 L1285.8,414.3 L1286.3,414.2 L1286.7,414.0 L1287.1,413.6 L1289.4,410.7 L1289.6,410.2 L1289.8,409.6 L1290.1,403.8 L1290.1,403.2 L1289.9,402.7 L1289.6,402.2 L1285.2,397.8 L1284.8,397.4 L1284.7,396.9 L1284.6,396.5 L1284.7,395.9 L1285.4,394.2 L1285.5,393.6 L1285.5,393.0 L1285.2,392.4 L1283.6,389.7 L1283.4,389.2 L1283.3,388.8 L1283.4,388.3 L1285.0,381.9 L1285.1,381.3 L1284.6,373.5 L1284.6,373.3 L1282.4,361.3 L1282.4,361.2 L1281.4,354.4 L1281.2,353.9 L1281.0,353.4 L1276.7,347.9 L1276.4,347.6 L1276.1,347.3Z M1287.5,432.8 L1287.3,432.1 L1287.0,431.4 L1286.4,430.9 L1285.8,430.5 L1285.0,430.3 L1284.2,430.3 L1283.5,430.5 L1282.8,430.9 L1280.8,432.5 L1280.6,432.7 L1278.3,435.0 L1278.1,435.1 L1275.6,437.3 L1275.1,437.9 L1274.8,438.5 L1274.7,439.3 L1274.3,443.8 L1274.4,444.5 L1275.3,450.7 L1275.3,451.4 L1274.8,458.3 L1274.9,459.2 L1277.1,468.3 L1277.2,468.8 L1277.1,469.3 L1275.9,474.5 L1275.8,475.3 L1275.9,476.0 L1276.2,476.7 L1276.6,477.3 L1277.8,478.4 L1278.4,478.9 L1279.2,479.2 L1280.0,479.3 L1281.5,479.2 L1282.3,479.0 L1283.0,478.6 L1283.6,478.0 L1284.0,477.3 L1285.8,472.4 L1285.9,472.1 L1288.1,463.5 L1288.2,462.8 L1288.1,462.2 L1286.9,455.5 L1286.8,454.6 L1287.8,447.3 L1287.8,446.9 L1287.8,435.6 L1287.8,435.3Z M1343.9,442.9 L1343.1,442.6 L1342.3,442.6 L1341.6,442.8 L1340.9,443.2 L1338.8,444.8 L1338.2,445.3 L1337.8,446.1 L1337.6,446.9 L1337.3,450.6 L1337.2,451.2 L1335.5,457.3 L1335.4,458.1 L1335.4,465.3 L1335.4,465.7 L1333.9,476.0 L1333.9,476.5 L1334.4,485.4 L1334.5,486.1 L1336.7,493.4 L1336.7,493.5 L1339.1,500.5 L1339.5,501.1 L1339.9,501.7 L1340.5,502.1 L1348.2,506.2 L1348.3,506.2 L1348.4,506.3 L1349.1,506.5 L1349.8,506.6 L1350.5,506.5 L1351.2,506.2 L1351.8,505.8 L1352.2,505.2 L1353.0,503.9 L1353.0,503.8 L1355.9,499.0 L1356.1,498.3 L1356.2,497.6 L1356.7,485.2 L1356.7,484.9 L1355.7,472.7 L1355.7,472.2 L1353.9,465.0 L1353.6,464.3 L1353.3,463.8 L1352.8,463.3 L1352.2,463.0 L1350.1,462.1 L1349.5,461.7 L1349.2,461.4 L1349.0,460.9 L1348.9,460.3 L1348.9,454.7 L1348.8,454.0 L1348.6,453.4 L1346.7,449.7 L1346.4,448.6 L1346.1,445.5 L1346.0,444.8 L1345.6,444.1 L1345.1,443.6 L1344.5,443.2Z M1241.1,629.1 L1240.4,628.9 L1239.7,629.0 L1239.0,629.2 L1238.4,629.7 L1236.4,631.3 L1236.0,631.7 L1235.7,632.2 L1233.5,636.8 L1233.3,637.5 L1231.9,644.5 L1231.9,644.9 L1231.4,656.2 L1231.4,656.4 L1231.9,665.8 L1231.9,666.1 L1233.3,674.4 L1233.4,675.3 L1233.1,678.1 L1233.1,678.9 L1233.3,679.6 L1233.7,680.2 L1236.4,683.6 L1236.5,683.7 L1240.4,688.2 L1241.0,688.7 L1244.1,690.7 L1244.8,691.1 L1245.6,691.2 L1246.4,691.1 L1247.1,690.9 L1249.9,689.3 L1250.5,688.8 L1251.0,688.2 L1251.3,687.4 L1253.3,678.7 L1253.5,678.1 L1256.9,670.3 L1257.1,669.7 L1257.1,669.0 L1256.7,660.4 L1256.7,659.9 L1257.7,649.4 L1257.7,649.2 L1258.2,639.3 L1258.0,638.3 L1256.2,632.4 L1255.8,631.7 L1255.3,631.1 L1254.6,630.5 L1253.9,630.0 L1253.1,629.8 L1252.2,629.8 L1251.4,630.1 L1249.4,631.1 L1248.8,631.2 L1248.4,631.3 L1247.8,631.2ZM1202.8,315.9a4.9,4.9 0 1,0 9.8,0a4.9,4.9 0 1,0 -9.8,0ZM1199.9,320.3a4.9,4.9 0 1,0 9.8,0a4.9,4.9 0 1,0 -9.8,0ZM1199.1,327.4a4.9,4.9 0 1,0 9.8,0a4.9,4.9 0 1,0 -9.8,0ZM1196.3,332.4a4.9,4.9 0 1,0 9.8,0a4.9,4.9 0 1,0 -9.8,0ZM1194.0,338.9a4.9,4.9 0 1,0 9.8,0a4.9,4.9 0 1,0 -9.8,0ZM1191.4,345.9a4.9,4.9 0 1,0 9.8,0a4.9,4.9 0 1,0 -9.8,0ZM1189.3,352.8a4.9,4.9 0 1,0 9.8,0a4.9,4.9 0 1,0 -9.8,0ZM1186.7,358.3a4.9,4.9 0 1,0 9.8,0a4.9,4.9 0 1,0 -9.8,0ZM1185.1,364.3a4.9,4.9 0 1,0 9.8,0a4.9,4.9 0 1,0 -9.8,0ZM1182.7,371.1a4.9,4.9 0 1,0 9.8,0a4.9,4.9 0 1,0 -9.8,0ZM1181.7,378.9a4.9,4.9 0 1,0 9.8,0a4.9,4.9 0 1,0 -9.8,0ZM1181.7,386.0a4.9,4.9 0 1,0 9.8,0a4.9,4.9 0 1,0 -9.8,0ZM1182.5,392.8a4.9,4.9 0 1,0 9.8,0a4.9,4.9 0 1,0 -9.8,0ZM1183.3,399.2a4.9,4.9 0 1,0 9.8,0a4.9,4.9 0 1,0 -9.8,0ZM1184.5,405.7a4.9,4.9 0 1,0 9.8,0a4.9,4.9 0 1,0 -9.8,0ZM1186.0,412.8a4.9,4.9 0 1,0 9.8,0a4.9,4.9 0 1,0 -9.8,0ZM1186.8,419.3a4.9,4.9 0 1,0 9.8,0a4.9,4.9 0 1,0 -9.8,0ZM1188.2,426.0a4.9,4.9 0 1,0 9.8,0a4.9,4.9 0 1,0 -9.8,0ZM1188.7,433.0a4.9,4.9 0 1,0 9.8,0a4.9,4.9 0 1,0 -9.8,0ZM1189.6,440.0a4.9,4.9 0 1,0 9.8,0a4.9,4.9 0 1,0 -9.8,0ZM1192.5,444.6a4.9,4.9 0 1,0 9.8,0a4.9,4.9 0 1,0 -9.8,0ZM1195.3,449.9a4.9,4.9 0 1,0 9.8,0a4.9,4.9 0 1,0 -9.8,0ZM1200.0,455.3a4.9,4.9 0 1,0 9.8,0a4.9,4.9 0 1,0 -9.8,0ZM1201.5,462.0a4.9,4.9 0 1,0 9.8,0a4.9,4.9 0 1,0 -9.8,0ZM1205.3,468.5a4.9,4.9 0 1,0 9.8,0a4.9,4.9 0 1,0 -9.8,0ZM1204.8,474.0a4.9,4.9 0 1,0 9.8,0a4.9,4.9 0 1,0 -9.8,0ZM1208.2,478.9a4.9,4.9 0 1,0 9.8,0a4.9,4.9 0 1,0 -9.8,0ZM1214.2,478.7a4.9,4.9 0 1,0 9.8,0a4.9,4.9 0 1,0 -9.8,0ZM1217.4,476.5a4.9,4.9 0 1,0 9.8,0a4.9,4.9 0 1,0 -9.8,0ZM1217.8,470.5a4.9,4.9 0 1,0 9.8,0a4.9,4.9 0 1,0 -9.8,0ZM1219.2,463.3a4.9,4.9 0 1,0 9.8,0a4.9,4.9 0 1,0 -9.8,0ZM1219.9,456.8a4.9,4.9 0 1,0 9.8,0a4.9,4.9 0 1,0 -9.8,0ZM1219.6,450.6a4.9,4.9 0 1,0 9.8,0a4.9,4.9 0 1,0 -9.8,0ZM1219.7,443.0a4.9,4.9 0 1,0 9.8,0a4.9,4.9 0 1,0 -9.8,0ZM1220.6,437.3a4.9,4.9 0 1,0 9.8,0a4.9,4.9 0 1,0 -9.8,0ZM1219.8,429.6a4.9,4.9 0 1,0 9.8,0a4.9,4.9 0 1,0 -9.8,0ZM1217.6,423.8a4.9,4.9 0 1,0 9.8,0a4.9,4.9 0 1,0 -9.8,0ZM1216.6,417.9a4.9,4.9 0 1,0 9.8,0a4.9,4.9 0 1,0 -9.8,0ZM1217.2,412.1a4.9,4.9 0 1,0 9.8,0a4.9,4.9 0 1,0 -9.8,0ZM1217.0,405.5a4.9,4.9 0 1,0 9.8,0a4.9,4.9 0 1,0 -9.8,0ZM1215.9,398.1a4.9,4.9 0 1,0 9.8,0a4.9,4.9 0 1,0 -9.8,0ZM1215.5,392.0a4.9,4.9 0 1,0 9.8,0a4.9,4.9 0 1,0 -9.8,0ZM1215.0,385.1a4.9,4.9 0 1,0 9.8,0a4.9,4.9 0 1,0 -9.8,0ZM1214.7,378.6a4.9,4.9 0 1,0 9.8,0a4.9,4.9 0 1,0 -9.8,0ZM1214.5,372.3a4.9,4.9 0 1,0 9.8,0a4.9,4.9 0 1,0 -9.8,0ZM1212.9,366.8a4.9,4.9 0 1,0 9.8,0a4.9,4.9 0 1,0 -9.8,0ZM1211.1,359.8a4.9,4.9 0 1,0 9.8,0a4.9,4.9 0 1,0 -9.8,0ZM1209.4,353.7a4.9,4.9 0 1,0 9.8,0a4.9,4.9 0 1,0 -9.8,0ZM1206.9,347.7a4.9,4.9 0 1,0 9.8,0a4.9,4.9 0 1,0 -9.8,0ZM1206.8,340.8a4.9,4.9 0 1,0 9.8,0a4.9,4.9 0 1,0 -9.8,0ZM1206.2,335.2a4.9,4.9 0 1,0 9.8,0a4.9,4.9 0 1,0 -9.8,0ZM1204.0,328.0a4.9,4.9 0 1,0 9.8,0a4.9,4.9 0 1,0 -9.8,0ZM1204.1,320.3a4.9,4.9 0 1,0 9.8,0a4.9,4.9 0 1,0 -9.8,0ZM1269.2,348.5a4.9,4.9 0 1,0 9.8,0a4.9,4.9 0 1,0 -9.8,0ZM1268.4,355.8a4.9,4.9 0 1,0 9.8,0a4.9,4.9 0 1,0 -9.8,0ZM1269.1,363.7a4.9,4.9 0 1,0 9.8,0a4.9,4.9 0 1,0 -9.8,0ZM1271.1,371.1a4.9,4.9 0 1,0 9.8,0a4.9,4.9 0 1,0 -9.8,0ZM1271.9,376.7a4.9,4.9 0 1,0 9.8,0a4.9,4.9 0 1,0 -9.8,0ZM1271.9,383.7a4.9,4.9 0 1,0 9.8,0a4.9,4.9 0 1,0 -9.8,0ZM1274.1,389.7a4.9,4.9 0 1,0 9.8,0a4.9,4.9 0 1,0 -9.8,0ZM1275.7,395.6a4.9,4.9 0 1,0 9.8,0a4.9,4.9 0 1,0 -9.8,0ZM1278.1,400.6a4.9,4.9 0 1,0 9.8,0a4.9,4.9 0 1,0 -9.8,0ZM1278.6,406.6a4.9,4.9 0 1,0 9.8,0a4.9,4.9 0 1,0 -9.8,0ZM1280.8,412.2a4.9,4.9 0 1,0 9.8,0a4.9,4.9 0 1,0 -9.8,0ZM1283.0,406.8a4.9,4.9 0 1,0 9.8,0a4.9,4.9 0 1,0 -9.8,0ZM1280.8,401.2a4.9,4.9 0 1,0 9.8,0a4.9,4.9 0 1,0 -9.8,0ZM1277.7,396.8a4.9,4.9 0 1,0 9.8,0a4.9,4.9 0 1,0 -9.8,0ZM1277.5,391.5a4.9,4.9 0 1,0 9.8,0a4.9,4.9 0 1,0 -9.8,0ZM1277.4,384.6a4.9,4.9 0 1,0 9.8,0a4.9,4.9 0 1,0 -9.8,0ZM1278.0,378.2a4.9,4.9 0 1,0 9.8,0a4.9,4.9 0 1,0 -9.8,0ZM1277.3,371.4a4.9,4.9 0 1,0 9.8,0a4.9,4.9 0 1,0 -9.8,0ZM1276.0,364.2a4.9,4.9 0 1,0 9.8,0a4.9,4.9 0 1,0 -9.8,0ZM1275.0,357.9a4.9,4.9 0 1,0 9.8,0a4.9,4.9 0 1,0 -9.8,0ZM1273.0,352.8a4.9,4.9 0 1,0 9.8,0a4.9,4.9 0 1,0 -9.8,0ZM1279.7,433.1a4.9,4.9 0 1,0 9.8,0a4.9,4.9 0 1,0 -9.8,0ZM1274.7,437.7a4.9,4.9 0 1,0 9.8,0a4.9,4.9 0 1,0 -9.8,0ZM1272.4,444.3a4.9,4.9 0 1,0 9.8,0a4.9,4.9 0 1,0 -9.8,0ZM1273.2,452.1a4.9,4.9 0 1,0 9.8,0a4.9,4.9 0 1,0 -9.8,0ZM1272.8,458.3a4.9,4.9 0 1,0 9.8,0a4.9,4.9 0 1,0 -9.8,0ZM1274.5,465.5a4.9,4.9 0 1,0 9.8,0a4.9,4.9 0 1,0 -9.8,0ZM1274.4,472.6a4.9,4.9 0 1,0 9.8,0a4.9,4.9 0 1,0 -9.8,0ZM1276.9,475.0a4.9,4.9 0 1,0 9.8,0a4.9,4.9 0 1,0 -9.8,0ZM1278.7,469.5a4.9,4.9 0 1,0 9.8,0a4.9,4.9 0 1,0 -9.8,0ZM1280.0,464.1a4.9,4.9 0 1,0 9.8,0a4.9,4.9 0 1,0 -9.8,0ZM1279.4,457.8a4.9,4.9 0 1,0 9.8,0a4.9,4.9 0 1,0 -9.8,0ZM1279.5,450.5a4.9,4.9 0 1,0 9.8,0a4.9,4.9 0 1,0 -9.8,0ZM1280.0,444.4a4.9,4.9 0 1,0 9.8,0a4.9,4.9 0 1,0 -9.8,0ZM1280.0,437.6a4.9,4.9 0 1,0 9.8,0a4.9,4.9 0 1,0 -9.8,0ZM1337.7,445.5a4.9,4.9 0 1,0 9.8,0a4.9,4.9 0 1,0 -9.8,0ZM1335.0,452.2a4.9,4.9 0 1,0 9.8,0a4.9,4.9 0 1,0 -9.8,0ZM1333.4,459.2a4.9,4.9 0 1,0 9.8,0a4.9,4.9 0 1,0 -9.8,0ZM1333.3,466.6a4.9,4.9 0 1,0 9.8,0a4.9,4.9 0 1,0 -9.8,0ZM1332.2,474.3a4.9,4.9 0 1,0 9.8,0a4.9,4.9 0 1,0 -9.8,0ZM1332.1,480.4a4.9,4.9 0 1,0 9.8,0a4.9,4.9 0 1,0 -9.8,0ZM1333.0,487.4a4.9,4.9 0 1,0 9.8,0a4.9,4.9 0 1,0 -9.8,0ZM1335.4,494.8a4.9,4.9 0 1,0 9.8,0a4.9,4.9 0 1,0 -9.8,0ZM1339.3,500.8a4.9,4.9 0 1,0 9.8,0a4.9,4.9 0 1,0 -9.8,0ZM1345.2,503.1a4.9,4.9 0 1,0 9.8,0a4.9,4.9 0 1,0 -9.8,0ZM1348.2,498.0a4.9,4.9 0 1,0 9.8,0a4.9,4.9 0 1,0 -9.8,0ZM1348.7,491.5a4.9,4.9 0 1,0 9.8,0a4.9,4.9 0 1,0 -9.8,0ZM1348.8,483.6a4.9,4.9 0 1,0 9.8,0a4.9,4.9 0 1,0 -9.8,0ZM1348.3,477.8a4.9,4.9 0 1,0 9.8,0a4.9,4.9 0 1,0 -9.8,0ZM1347.6,471.6a4.9,4.9 0 1,0 9.8,0a4.9,4.9 0 1,0 -9.8,0ZM1344.5,464.9a4.9,4.9 0 1,0 9.8,0a4.9,4.9 0 1,0 -9.8,0ZM1341.1,459.9a4.9,4.9 0 1,0 9.8,0a4.9,4.9 0 1,0 -9.8,0ZM1340.7,454.0a4.9,4.9 0 1,0 9.8,0a4.9,4.9 0 1,0 -9.8,0ZM1338.5,448.1a4.9,4.9 0 1,0 9.8,0a4.9,4.9 0 1,0 -9.8,0ZM1235.4,631.8a4.9,4.9 0 1,0 9.8,0a4.9,4.9 0 1,0 -9.8,0ZM1231.2,638.2a4.9,4.9 0 1,0 9.8,0a4.9,4.9 0 1,0 -9.8,0ZM1229.9,645.3a4.9,4.9 0 1,0 9.8,0a4.9,4.9 0 1,0 -9.8,0ZM1229.6,652.7a4.9,4.9 0 1,0 9.8,0a4.9,4.9 0 1,0 -9.8,0ZM1229.6,660.5a4.9,4.9 0 1,0 9.8,0a4.9,4.9 0 1,0 -9.8,0ZM1230.0,666.6a4.9,4.9 0 1,0 9.8,0a4.9,4.9 0 1,0 -9.8,0ZM1231.2,673.6a4.9,4.9 0 1,0 9.8,0a4.9,4.9 0 1,0 -9.8,0ZM1232.9,680.7a4.9,4.9 0 1,0 9.8,0a4.9,4.9 0 1,0 -9.8,0ZM1237.9,686.4a4.9,4.9 0 1,0 9.8,0a4.9,4.9 0 1,0 -9.8,0ZM1243.6,686.4a4.9,4.9 0 1,0 9.8,0a4.9,4.9 0 1,0 -9.8,0ZM1245.0,680.7a4.9,4.9 0 1,0 9.8,0a4.9,4.9 0 1,0 -9.8,0ZM1247.0,674.5a4.9,4.9 0 1,0 9.8,0a4.9,4.9 0 1,0 -9.8,0ZM1249.2,667.0a4.9,4.9 0 1,0 9.8,0a4.9,4.9 0 1,0 -9.8,0ZM1248.9,661.3a4.9,4.9 0 1,0 9.8,0a4.9,4.9 0 1,0 -9.8,0ZM1249.4,655.0a4.9,4.9 0 1,0 9.8,0a4.9,4.9 0 1,0 -9.8,0ZM1250.0,647.1a4.9,4.9 0 1,0 9.8,0a4.9,4.9 0 1,0 -9.8,0ZM1250.3,640.5a4.9,4.9 0 1,0 9.8,0a4.9,4.9 0 1,0 -9.8,0ZM1248.9,634.7a4.9,4.9 0 1,0 9.8,0a4.9,4.9 0 1,0 -9.8,0ZM1244.3,634.1a4.9,4.9 0 1,0 9.8,0a4.9,4.9 0 1,0 -9.8,0ZM1236.8,632.3a4.9,4.9 0 1,0 9.8,0a4.9,4.9 0 1,0 -9.8,0Z" fill="#BEBEBE" fill-rule="nonzero"/>
<circle cx="1305.1" cy="134" r="5" fill="#BEBEBE"/>
<circle cx="1306.0" cy="139.5" r="5" fill="#BEBEBE"/>
<circle cx="1305.6" cy="136.8" r="5.2" fill="#BEBEBE"/>
<circle cx="1215.0" cy="481.2" r="4.7" fill="#BEBEBE"/>
<circle cx="1223.9" cy="480.6" r="4.7" fill="#BEBEBE"/>
<circle cx="1207.0" cy="473" r="4.7" fill="#BEBEBE"/>
<circle cx="1245.5" cy="688.8" r="4.8" fill="#BEBEBE"/>
<circle cx="1239.5" cy="685" r="4.7" fill="#BEBEBE"/>
<circle cx="1198.9" cy="355.5" r="4.9" fill="#BEB8B7"/>
<circle cx="1196.6" cy="362.4" r="4.9" fill="#BEB8B7"/>
<circle cx="1208.9" cy="379.2" r="4.9" fill="#BEB8B7"/>
<circle cx="1205.9" cy="403.5" r="4.9" fill="#BEB8B7"/>
<circle cx="1347.5" cy="495.8" r="4.9" fill="#BEB1AD"/>
<circle cx="1283.0" cy="465.8" r="4.9" fill="#BDAAA5"/>
<circle cx="1246.5" cy="639.1" r="4.9" fill="#BDAAA5"/>
<circle cx="1234.7" cy="648.9" r="4.9" fill="#BA958B"/>
<circle cx="1248.5" cy="678.9" r="4.9" fill="#B98C81"/>
<circle cx="1241.1" cy="674.9" r="4.9" fill="#AD6352"/>
<circle cx="1245.5" cy="683.8" r="4.9" fill="#942314"/>
<circle cx="1340.1" cy="473.7" r="4.9" fill="#8B0000"/>
<circle cx="1248.0" cy="648.9" r="4.9" fill="#8B0000"/>
<line x1="1175.30" y1="90.2" x2="1175.30" y2="741.35" stroke="#000" stroke-width="2.7"/>
<line x1="1173.95" y1="740" x2="1368.10" y2="740" stroke="#000" stroke-width="2.7"/>
<line x1="1166.00" y1="177.5" x2="1175.30" y2="177.5" stroke="#000" stroke-width="2.7"/>
<line x1="1166.00" y1="317.8" x2="1175.30" y2="317.8" stroke="#000" stroke-width="2.7"/>
<line x1="1166.00" y1="458.15" x2="1175.30" y2="458.15" stroke="#000" stroke-width="2.7"/>
<line x1="1166.00" y1="598.5" x2="1175.30" y2="598.5" stroke="#000" stroke-width="2.7"/>
<line x1="1166.00" y1="738.8" x2="1175.30" y2="738.8" stroke="#000" stroke-width="2.7"/>
<line x1="1177.40" y1="740" x2="1177.40" y2="749.3" stroke="#000" stroke-width="2.7"/>
<line x1="1241.90" y1="740" x2="1241.90" y2="749.3" stroke="#000" stroke-width="2.7"/>
<line x1="1306.50" y1="740" x2="1306.50" y2="749.3" stroke="#000" stroke-width="2.7"/>
<text x="243.5" y="64.4" class="t" text-anchor="middle" textLength="252.0" lengthAdjust="spacingAndGlyphs">12889G&gt;A</text>
<text transform="translate(129.0,188.9) scale(1.11,1)" class="k" text-anchor="end">10</text>
<text transform="translate(129.0,329.2) scale(1.11,1)" class="k" text-anchor="end">5</text>
<text transform="translate(129.0,469.5) scale(1.11,1)" class="k" text-anchor="end">0</text>
<text transform="translate(129.0,609.9) scale(1.11,1)" class="k" text-anchor="end">-5</text>
<text transform="translate(129.0,750.2) scale(1.11,1)" class="k" text-anchor="end">-10</text>
<text transform="translate(149.3,780) scale(1.11,1)" class="k" text-anchor="middle">-10</text>
<text transform="translate(213.8,780) scale(1.11,1)" class="k" text-anchor="middle">0</text>
<text transform="translate(278.4,780) scale(1.11,1)" class="k" text-anchor="middle">10</text>
<text transform="translate(241.9,824.8) scale(1.112,1)" class="a" text-anchor="middle">umap_1</text>
<text transform="translate(60.0,416.75) rotate(-90) scale(1.112,1)" class="a" text-anchor="middle">umap_2</text>
<text x="585.5" y="64.4" class="t" text-anchor="middle" textLength="244.0" lengthAdjust="spacingAndGlyphs">16147C&gt;T</text>
<text transform="translate(471.7,188.9) scale(1.11,1)" class="k" text-anchor="end">10</text>
<text transform="translate(471.7,329.2) scale(1.11,1)" class="k" text-anchor="end">5</text>
<text transform="translate(471.7,469.5) scale(1.11,1)" class="k" text-anchor="end">0</text>
<text transform="translate(471.7,609.9) scale(1.11,1)" class="k" text-anchor="end">-5</text>
<text transform="translate(471.7,750.2) scale(1.11,1)" class="k" text-anchor="end">-10</text>
<text transform="translate(492.0,780) scale(1.11,1)" class="k" text-anchor="middle">-10</text>
<text transform="translate(556.5,780) scale(1.11,1)" class="k" text-anchor="middle">0</text>
<text transform="translate(621.1,780) scale(1.11,1)" class="k" text-anchor="middle">10</text>
<text transform="translate(584.6,824.8) scale(1.112,1)" class="a" text-anchor="middle">umap_1</text>
<text transform="translate(402.7,416.75) rotate(-90) scale(1.112,1)" class="a" text-anchor="middle">umap_2</text>
<text x="928.8" y="64.4" class="t" text-anchor="middle" textLength="214.1" lengthAdjust="spacingAndGlyphs">9728C&gt;T</text>
<text transform="translate(814.4,188.9) scale(1.11,1)" class="k" text-anchor="end">10</text>
<text transform="translate(814.4,329.2) scale(1.11,1)" class="k" text-anchor="end">5</text>
<text transform="translate(814.4,469.5) scale(1.11,1)" class="k" text-anchor="end">0</text>
<text transform="translate(814.4,609.9) scale(1.11,1)" class="k" text-anchor="end">-5</text>
<text transform="translate(814.4,750.2) scale(1.11,1)" class="k" text-anchor="end">-10</text>
<text transform="translate(834.7,780) scale(1.11,1)" class="k" text-anchor="middle">-10</text>
<text transform="translate(899.2,780) scale(1.11,1)" class="k" text-anchor="middle">0</text>
<text transform="translate(963.8,780) scale(1.11,1)" class="k" text-anchor="middle">10</text>
<text transform="translate(927.3,824.8) scale(1.112,1)" class="a" text-anchor="middle">umap_1</text>
<text transform="translate(745.4,416.75) rotate(-90) scale(1.112,1)" class="a" text-anchor="middle">umap_2</text>
<text x="1271.5" y="64.4" class="t" text-anchor="middle" textLength="222.0" lengthAdjust="spacingAndGlyphs">9804G&gt;A</text>
<text transform="translate(1157.1,188.9) scale(1.11,1)" class="k" text-anchor="end">10</text>
<text transform="translate(1157.1,329.2) scale(1.11,1)" class="k" text-anchor="end">5</text>
<text transform="translate(1157.1,469.5) scale(1.11,1)" class="k" text-anchor="end">0</text>
<text transform="translate(1157.1,609.9) scale(1.11,1)" class="k" text-anchor="end">-5</text>
<text transform="translate(1157.1,750.2) scale(1.11,1)" class="k" text-anchor="end">-10</text>
<text transform="translate(1177.4,780) scale(1.11,1)" class="k" text-anchor="middle">-10</text>
<text transform="translate(1241.9,780) scale(1.11,1)" class="k" text-anchor="middle">0</text>
<text transform="translate(1306.5,780) scale(1.11,1)" class="k" text-anchor="middle">10</text>
<text transform="translate(1270.0,824.8) scale(1.112,1)" class="a" text-anchor="middle">umap_1</text>
<text transform="translate(1088.1,416.75) rotate(-90) scale(1.112,1)" class="a" text-anchor="middle">umap_2</text>
</svg></body></html>
